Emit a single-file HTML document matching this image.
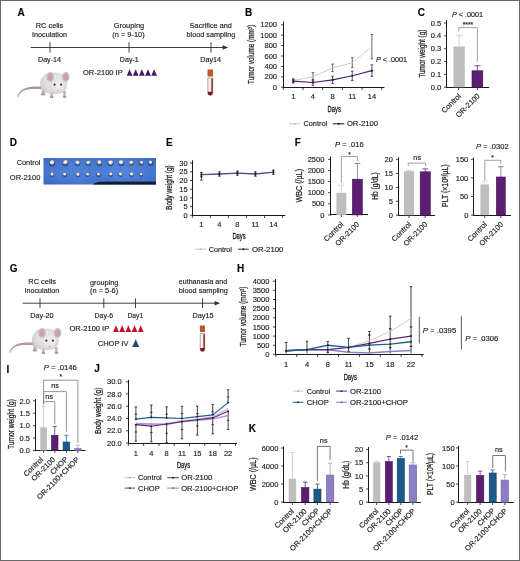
<!DOCTYPE html><html><head><meta charset="utf-8"><style>html,body{margin:0;padding:0;background:#fff;}svg{display:block;will-change:transform;}text{font-family:"Liberation Sans", sans-serif;stroke:#222;stroke-width:0.15px;}</style></head><body>
<svg width="520" height="561" viewBox="0 0 520 561">
<rect x="0" y="0" width="520" height="561" fill="#fff"/>
<defs><radialGradient id="mb" cx="0.62" cy="0.4" r="0.7"><stop offset="0" stop-color="#efedee"/><stop offset="0.7" stop-color="#e0dcdd"/><stop offset="1" stop-color="#cfc9ca"/></radialGradient><radialGradient id="mh" cx="0.5" cy="0.45" r="0.6"><stop offset="0" stop-color="#f2f0f1"/><stop offset="1" stop-color="#e2dfe0"/></radialGradient></defs>
<text x="17.50" y="15.60" font-size="10" fill="#000" font-weight="bold">A</text>
<text x="49.50" y="27.80" font-size="7.3" fill="#222" text-anchor="middle" textLength="27.4" lengthAdjust="spacingAndGlyphs">RC cells</text>
<text x="49.50" y="36.50" font-size="7.3" fill="#222" text-anchor="middle" textLength="35" lengthAdjust="spacingAndGlyphs">Inoculation</text>
<text x="129.00" y="28.20" font-size="7.3" fill="#222" text-anchor="middle" textLength="30.5" lengthAdjust="spacingAndGlyphs">Grouping</text>
<text x="128.50" y="36.70" font-size="7.3" fill="#222" text-anchor="middle" textLength="32.3" lengthAdjust="spacingAndGlyphs">(n = 9-10)</text>
<text x="210.80" y="28.20" font-size="7.3" fill="#222" text-anchor="middle" textLength="42.1" lengthAdjust="spacingAndGlyphs">Sacrifice and</text>
<text x="210.90" y="36.90" font-size="7.3" fill="#222" text-anchor="middle" textLength="48.7" lengthAdjust="spacingAndGlyphs">blood sampling</text>
<line x1="30.60" y1="47.50" x2="224.00" y2="47.50" stroke="#2a2a2a" stroke-width="0.9"/>
<polygon points="222.6,45.2 228,47.5 222.6,49.8" fill="#2a2a2a"/>
<line x1="50.00" y1="42.20" x2="50.00" y2="52.50" stroke="#2a2a2a" stroke-width="0.9"/>
<line x1="129.00" y1="42.20" x2="129.00" y2="52.50" stroke="#2a2a2a" stroke-width="0.9"/>
<line x1="211.00" y1="42.20" x2="211.00" y2="52.50" stroke="#2a2a2a" stroke-width="0.9"/>
<text x="49.50" y="62.00" font-size="7.3" fill="#222" text-anchor="middle" textLength="23" lengthAdjust="spacingAndGlyphs">Day-14</text>
<text x="129.30" y="61.60" font-size="7.3" fill="#222" text-anchor="middle" textLength="19" lengthAdjust="spacingAndGlyphs">Day-1</text>
<text x="210.60" y="62.20" font-size="7.3" fill="#222" text-anchor="middle" textLength="20.8" lengthAdjust="spacingAndGlyphs">Day14</text>
<text x="83.00" y="75.40" font-size="7.3" fill="#222" textLength="39.7" lengthAdjust="spacingAndGlyphs">OR-2100 IP</text>
<polygon points="126.70,75.80 129.57,69.20 132.44,75.80" fill="#43185f"/>
<polygon points="132.84,75.80 135.71,69.20 138.58,75.80" fill="#43185f"/>
<polygon points="138.98,75.80 141.85,69.20 144.72,75.80" fill="#43185f"/>
<polygon points="145.12,75.80 147.99,69.20 150.86,75.80" fill="#43185f"/>
<polygon points="151.26,75.80 154.13,69.20 157.00,75.80" fill="#43185f"/>
<rect x="207.50" y="69.50" width="5.50" height="6.90" fill="#b85a2c" rx="0.6"/>
<path d="M207.80,78.00 L212.70,78.00 L212.70,92.95 A2.45,2.45 0 0 1 207.80,92.95 Z" fill="#f3efed" stroke="#8a3a42" stroke-width="0.45"/>
<path d="M211.40,78.60 L212.70,78.60 L212.70,92.95 A2.45,2.45 0 0 1 207.80,92.95 L207.80,91.75 L211.40,91.75 Z" fill="#6e1c24"/>
<g transform="translate(0.00 0.00)"><path d="M41.5,86.6 C34,86.4 27,86.6 22.5,89.5 C19.8,91.3 18.2,93.8 17.4,96.8 L18.3,97 C19.3,94.3 21,92.3 23.4,90.8 C27.5,88.5 34,88.7 41.5,89.2 Z" fill="#b39698"/><path d="M42,88 L44.5,88 L45,93.2 L41.5,93.6 Z" fill="#bdb4b6"/><ellipse cx="43.2" cy="94.2" rx="2.3" ry="1.2" fill="#a8989c"/><path d="M50.3,91 L53,91 L52.8,96 L50.4,96 Z" fill="#bdb4b6"/><ellipse cx="51.6" cy="96.9" rx="1.9" ry="1.2" fill="#a8989c"/><path d="M63.2,91 L65.8,91 L65.6,95.8 L63.4,95.8 Z" fill="#bdb4b6"/><ellipse cx="64.6" cy="96.7" rx="1.9" ry="1.2" fill="#a8989c"/><path d="M40.6,84 C40.4,77.5 45,73.4 52,73.1 C59.5,72.8 65.5,74.8 66.4,80.5 C67.3,86.5 66,92.2 59,93.2 C52,94.2 44.5,92.8 41.8,89.6 C41,88.5 40.7,86.5 40.6,84 Z" fill="url(#mb)" stroke="#c4bebf" stroke-width="0.5"/><ellipse cx="58" cy="85.2" rx="7.2" ry="7.3" fill="url(#mh)" stroke="#d2cccd" stroke-width="0.4"/><ellipse cx="50.2" cy="76.8" rx="3.3" ry="4.4" fill="#cbbfc1" stroke="#b3a5a8" stroke-width="0.5"/><ellipse cx="50.2" cy="77.1" rx="2.3" ry="3.3" fill="#cda0a6"/><ellipse cx="65.8" cy="76.8" rx="3.3" ry="4.4" fill="#cbbfc1" stroke="#b3a5a8" stroke-width="0.5"/><ellipse cx="65.8" cy="77.1" rx="2.3" ry="3.3" fill="#cda0a6"/><circle cx="54.6" cy="84.6" r="1.05" fill="#2a2a2a"/><circle cx="61.1" cy="84.6" r="1.05" fill="#2a2a2a"/><ellipse cx="58" cy="90.6" rx="0.9" ry="0.6" fill="#b08890"/></g>
<text x="245.10" y="15.50" font-size="10" fill="#000" font-weight="bold">B</text>
<line x1="283.50" y1="21.50" x2="283.50" y2="87.70" stroke="#1a1a1a" stroke-width="1.0"/>
<line x1="281.00" y1="87.20" x2="283.50" y2="87.20" stroke="#1a1a1a" stroke-width="0.8"/>
<text x="277.00" y="89.80" font-size="7.5" fill="#222" text-anchor="end">0</text>
<line x1="281.00" y1="76.80" x2="283.50" y2="76.80" stroke="#1a1a1a" stroke-width="0.8"/>
<text x="277.00" y="79.40" font-size="7.5" fill="#222" text-anchor="end">200</text>
<line x1="281.00" y1="66.40" x2="283.50" y2="66.40" stroke="#1a1a1a" stroke-width="0.8"/>
<text x="277.00" y="69.00" font-size="7.5" fill="#222" text-anchor="end">400</text>
<line x1="281.00" y1="56.00" x2="283.50" y2="56.00" stroke="#1a1a1a" stroke-width="0.8"/>
<text x="277.00" y="58.60" font-size="7.5" fill="#222" text-anchor="end">600</text>
<line x1="281.00" y1="45.60" x2="283.50" y2="45.60" stroke="#1a1a1a" stroke-width="0.8"/>
<text x="277.00" y="48.20" font-size="7.5" fill="#222" text-anchor="end">800</text>
<line x1="281.00" y1="35.20" x2="283.50" y2="35.20" stroke="#1a1a1a" stroke-width="0.8"/>
<text x="277.00" y="37.80" font-size="7.5" fill="#222" text-anchor="end">1000</text>
<line x1="281.00" y1="24.80" x2="283.50" y2="24.80" stroke="#1a1a1a" stroke-width="0.8"/>
<text x="277.00" y="27.40" font-size="7.5" fill="#222" text-anchor="end">1200</text>
<line x1="283.00" y1="87.50" x2="384.40" y2="87.50" stroke="#1a1a1a" stroke-width="1.0"/>
<line x1="283.30" y1="87.50" x2="283.30" y2="90.00" stroke="#1a1a1a" stroke-width="0.8"/>
<line x1="303.00" y1="87.50" x2="303.00" y2="90.00" stroke="#1a1a1a" stroke-width="0.8"/>
<line x1="322.70" y1="87.50" x2="322.70" y2="90.00" stroke="#1a1a1a" stroke-width="0.8"/>
<line x1="342.40" y1="87.50" x2="342.40" y2="90.00" stroke="#1a1a1a" stroke-width="0.8"/>
<line x1="362.10" y1="87.50" x2="362.10" y2="90.00" stroke="#1a1a1a" stroke-width="0.8"/>
<line x1="381.80" y1="87.50" x2="381.80" y2="90.00" stroke="#1a1a1a" stroke-width="0.8"/>
<text x="293.30" y="99.20" font-size="7.5" fill="#222" text-anchor="middle">1</text>
<text x="312.95" y="99.20" font-size="7.5" fill="#222" text-anchor="middle">4</text>
<text x="332.60" y="99.20" font-size="7.5" fill="#222" text-anchor="middle">8</text>
<text x="352.25" y="99.20" font-size="7.5" fill="#222" text-anchor="middle">11</text>
<text x="371.90" y="99.20" font-size="7.5" fill="#222" text-anchor="middle">14</text>
<text x="334.20" y="111.70" font-size="8.6" fill="#222" text-anchor="middle" textLength="13.2" lengthAdjust="spacingAndGlyphs" style="stroke-width:0.3px">Days</text>
<text x="0" y="0" font-size="8.8" fill="#222" style="stroke-width:0.25px" text-anchor="middle" textLength="59" lengthAdjust="spacingAndGlyphs" transform="translate(254.10 54.50) rotate(-90)">Tumor volume (mm<tspan font-size="5.5" dy="-2.5">3</tspan><tspan dy="2.5">)</tspan></text>
<line x1="293.30" y1="80.44" x2="293.30" y2="78.88" stroke="#444" stroke-width="0.8"/>
<line x1="292.00" y1="78.88" x2="294.60" y2="78.88" stroke="#444" stroke-width="0.8"/>
<line x1="293.30" y1="80.44" x2="293.30" y2="82.00" stroke="#444" stroke-width="0.8"/>
<line x1="292.00" y1="82.00" x2="294.60" y2="82.00" stroke="#444" stroke-width="0.8"/>
<line x1="312.95" y1="76.80" x2="312.95" y2="72.64" stroke="#444" stroke-width="0.8"/>
<line x1="311.65" y1="72.64" x2="314.25" y2="72.64" stroke="#444" stroke-width="0.8"/>
<line x1="312.95" y1="76.80" x2="312.95" y2="80.96" stroke="#444" stroke-width="0.8"/>
<line x1="311.65" y1="80.96" x2="314.25" y2="80.96" stroke="#444" stroke-width="0.8"/>
<line x1="332.60" y1="67.96" x2="332.60" y2="64.06" stroke="#444" stroke-width="0.8"/>
<line x1="331.30" y1="64.06" x2="333.90" y2="64.06" stroke="#444" stroke-width="0.8"/>
<line x1="332.60" y1="67.96" x2="332.60" y2="71.60" stroke="#444" stroke-width="0.8"/>
<line x1="331.30" y1="71.60" x2="333.90" y2="71.60" stroke="#444" stroke-width="0.8"/>
<line x1="352.25" y1="62.76" x2="352.25" y2="57.82" stroke="#444" stroke-width="0.8"/>
<line x1="350.95" y1="57.82" x2="353.55" y2="57.82" stroke="#444" stroke-width="0.8"/>
<line x1="352.25" y1="62.76" x2="352.25" y2="67.70" stroke="#444" stroke-width="0.8"/>
<line x1="350.95" y1="67.70" x2="353.55" y2="67.70" stroke="#444" stroke-width="0.8"/>
<line x1="371.90" y1="46.90" x2="371.90" y2="34.42" stroke="#444" stroke-width="0.8"/>
<line x1="370.60" y1="34.42" x2="373.20" y2="34.42" stroke="#444" stroke-width="0.8"/>
<line x1="371.90" y1="46.90" x2="371.90" y2="58.86" stroke="#444" stroke-width="0.8"/>
<line x1="370.60" y1="58.86" x2="373.20" y2="58.86" stroke="#444" stroke-width="0.8"/>
<polyline points="293.30,80.44 312.95,76.80 332.60,67.96 352.25,62.76 371.90,46.90" fill="none" stroke="#c4c4c4" stroke-width="0.9" stroke-linejoin="round"/>
<line x1="293.30" y1="81.22" x2="293.30" y2="79.40" stroke="#3a1a4e" stroke-width="0.8"/>
<line x1="292.00" y1="79.40" x2="294.60" y2="79.40" stroke="#3a1a4e" stroke-width="0.8"/>
<line x1="293.30" y1="81.22" x2="293.30" y2="83.04" stroke="#3a1a4e" stroke-width="0.8"/>
<line x1="292.00" y1="83.04" x2="294.60" y2="83.04" stroke="#3a1a4e" stroke-width="0.8"/>
<line x1="312.95" y1="82.52" x2="312.95" y2="79.66" stroke="#3a1a4e" stroke-width="0.8"/>
<line x1="311.65" y1="79.66" x2="314.25" y2="79.66" stroke="#3a1a4e" stroke-width="0.8"/>
<line x1="312.95" y1="82.52" x2="312.95" y2="85.38" stroke="#3a1a4e" stroke-width="0.8"/>
<line x1="311.65" y1="85.38" x2="314.25" y2="85.38" stroke="#3a1a4e" stroke-width="0.8"/>
<line x1="332.60" y1="79.92" x2="332.60" y2="76.28" stroke="#3a1a4e" stroke-width="0.8"/>
<line x1="331.30" y1="76.28" x2="333.90" y2="76.28" stroke="#3a1a4e" stroke-width="0.8"/>
<line x1="332.60" y1="79.92" x2="332.60" y2="83.56" stroke="#3a1a4e" stroke-width="0.8"/>
<line x1="331.30" y1="83.56" x2="333.90" y2="83.56" stroke="#3a1a4e" stroke-width="0.8"/>
<line x1="352.25" y1="75.76" x2="352.25" y2="71.08" stroke="#3a1a4e" stroke-width="0.8"/>
<line x1="350.95" y1="71.08" x2="353.55" y2="71.08" stroke="#3a1a4e" stroke-width="0.8"/>
<line x1="352.25" y1="75.76" x2="352.25" y2="80.44" stroke="#3a1a4e" stroke-width="0.8"/>
<line x1="350.95" y1="80.44" x2="353.55" y2="80.44" stroke="#3a1a4e" stroke-width="0.8"/>
<line x1="371.90" y1="70.56" x2="371.90" y2="64.84" stroke="#3a1a4e" stroke-width="0.8"/>
<line x1="370.60" y1="64.84" x2="373.20" y2="64.84" stroke="#3a1a4e" stroke-width="0.8"/>
<line x1="371.90" y1="70.56" x2="371.90" y2="76.28" stroke="#3a1a4e" stroke-width="0.8"/>
<line x1="370.60" y1="76.28" x2="373.20" y2="76.28" stroke="#3a1a4e" stroke-width="0.8"/>
<polyline points="293.30,81.22 312.95,82.52 332.60,79.92 352.25,75.76 371.90,70.56" fill="none" stroke="#4e2068" stroke-width="1.2" stroke-linejoin="round"/>
<circle cx="293.30" cy="81.22" r="1.1" fill="#2a0f3a"/>
<circle cx="312.95" cy="82.52" r="1.1" fill="#2a0f3a"/>
<circle cx="332.60" cy="79.92" r="1.1" fill="#2a0f3a"/>
<circle cx="352.25" cy="75.76" r="1.1" fill="#2a0f3a"/>
<circle cx="371.90" cy="70.56" r="1.1" fill="#2a0f3a"/>
<text x="376.00" y="61.70" font-size="7.3" fill="#222" textLength="31" lengthAdjust="spacingAndGlyphs"><tspan font-style="italic">P</tspan> &lt; .0001</text>
<line x1="289.20" y1="123.80" x2="300.20" y2="123.80" stroke="#c4c4c4" stroke-width="0.9"/>
<circle cx="294.7" cy="123.8" r="0.9" fill="#b0b0b0"/>
<text x="303.50" y="126.30" font-size="7.3" fill="#222" textLength="23.6" lengthAdjust="spacingAndGlyphs">Control</text>
<line x1="332.90" y1="123.80" x2="344.40" y2="123.80" stroke="#3a1850" stroke-width="1.1"/>
<circle cx="338.6" cy="123.8" r="1.0" fill="#2a0f3a"/>
<text x="346.90" y="126.30" font-size="7.3" fill="#222" textLength="31.1" lengthAdjust="spacingAndGlyphs">OR-2100</text>
<text x="417.80" y="15.90" font-size="10" fill="#000" font-weight="bold">C</text>
<text x="452.00" y="16.60" font-size="7.3" fill="#222" textLength="31" lengthAdjust="spacingAndGlyphs"><tspan font-style="italic">P</tspan> &lt; .0001</text>
<line x1="446.50" y1="20.20" x2="446.50" y2="87.70" stroke="#1a1a1a" stroke-width="1.0"/>
<line x1="444.00" y1="87.20" x2="446.50" y2="87.20" stroke="#1a1a1a" stroke-width="0.8"/>
<text x="441.20" y="89.80" font-size="7.5" fill="#222" text-anchor="end">0.0</text>
<line x1="444.00" y1="74.37" x2="446.50" y2="74.37" stroke="#1a1a1a" stroke-width="0.8"/>
<text x="441.20" y="76.97" font-size="7.5" fill="#222" text-anchor="end">0.1</text>
<line x1="444.00" y1="61.54" x2="446.50" y2="61.54" stroke="#1a1a1a" stroke-width="0.8"/>
<text x="441.20" y="64.14" font-size="7.5" fill="#222" text-anchor="end">0.2</text>
<line x1="444.00" y1="48.71" x2="446.50" y2="48.71" stroke="#1a1a1a" stroke-width="0.8"/>
<text x="441.20" y="51.31" font-size="7.5" fill="#222" text-anchor="end">0.3</text>
<line x1="444.00" y1="35.88" x2="446.50" y2="35.88" stroke="#1a1a1a" stroke-width="0.8"/>
<text x="441.20" y="38.48" font-size="7.5" fill="#222" text-anchor="end">0.4</text>
<line x1="444.00" y1="23.05" x2="446.50" y2="23.05" stroke="#1a1a1a" stroke-width="0.8"/>
<text x="441.20" y="25.65" font-size="7.5" fill="#222" text-anchor="end">0.5</text>
<line x1="446.00" y1="87.50" x2="489.20" y2="87.50" stroke="#1a1a1a" stroke-width="1.0"/>
<line x1="458.60" y1="87.50" x2="458.60" y2="90.00" stroke="#1a1a1a" stroke-width="0.8"/>
<line x1="477.40" y1="87.50" x2="477.40" y2="90.00" stroke="#1a1a1a" stroke-width="0.8"/>
<line x1="459.15" y1="46.40" x2="459.15" y2="35.30" stroke="#c8c8c8" stroke-width="0.8"/>
<line x1="455.76" y1="35.30" x2="462.54" y2="35.30" stroke="#c8c8c8" stroke-width="0.8"/>
<rect x="453.50" y="46.40" width="11.30" height="40.80" fill="#bebebe"/>
<line x1="477.40" y1="70.80" x2="477.40" y2="65.70" stroke="#6a2a86" stroke-width="0.8"/>
<line x1="474.16" y1="65.70" x2="480.64" y2="65.70" stroke="#6a2a86" stroke-width="0.8"/>
<rect x="472.00" y="70.80" width="10.80" height="16.40" fill="#5c1e73" stroke="#3f1250" stroke-width="0.6"/>
<polyline points="458.70,31.50 458.70,27.60 477.40,27.60 477.40,61.60" fill="none" stroke="#8a8a8a" stroke-width="0.8"/>
<text x="468.00" y="26.60" font-size="6.5" fill="#222" text-anchor="middle" textLength="10.5" lengthAdjust="spacingAndGlyphs">****</text>
<text x="0" y="0" font-size="8.8" fill="#222" style="stroke-width:0.25px" text-anchor="middle" textLength="48" lengthAdjust="spacingAndGlyphs" transform="translate(424.70 53.60) rotate(-90)">Tumor weight (g)</text>
<text x="0" y="0" font-size="7.5" fill="#222" text-anchor="end" transform="translate(461.50 96.50) rotate(-45)">Control</text>
<text x="0" y="0" font-size="7.5" fill="#222" text-anchor="end" transform="translate(480.30 96.50) rotate(-45)">OR-2100</text>
<text x="9.80" y="146.10" font-size="10" fill="#000" font-weight="bold">D</text>
<text x="40.40" y="165.20" font-size="7.3" fill="#222" text-anchor="end" textLength="23.7" lengthAdjust="spacingAndGlyphs">Control</text>
<text x="40.40" y="179.80" font-size="7.3" fill="#222" text-anchor="end" textLength="30.6" lengthAdjust="spacingAndGlyphs">OR-2100</text>
<defs><linearGradient id="dk" x1="0" y1="0" x2="0" y2="1"><stop offset="0" stop-color="#1b2c4a"/><stop offset="1" stop-color="#0a0f1c"/></linearGradient><radialGradient id="tm" cx="0.45" cy="0.4" r="0.62"><stop offset="0" stop-color="#fffdf4"/><stop offset="0.5" stop-color="#f0e8cc"/><stop offset="1" stop-color="#c4a67e"/></radialGradient></defs>
<defs><linearGradient id="bl" x1="0" y1="0" x2="1" y2="0"><stop offset="0" stop-color="#3f6fcc"/><stop offset="0.15" stop-color="#4678d4"/><stop offset="0.3" stop-color="#4a7dd8"/><stop offset="0.5" stop-color="#4477d3"/><stop offset="0.7" stop-color="#4b80da"/><stop offset="0.85" stop-color="#4679d5"/><stop offset="1" stop-color="#3f70cd"/></linearGradient><linearGradient id="bl2" x1="0" y1="0" x2="0" y2="1"><stop offset="0" stop-color="#000" stop-opacity="0.06"/><stop offset="0.5" stop-color="#fff" stop-opacity="0.04"/><stop offset="1" stop-color="#000" stop-opacity="0.08"/></linearGradient></defs>
<rect x="43.5" y="158" width="112.5" height="26.5" fill="url(#bl)"/>
<rect x="43.5" y="158" width="112.5" height="26.5" fill="url(#bl2)"/>
<path d="M93,184.5 C95,182 100,181.4 110,181.4 L156,181.4 L156,184.5 Z" fill="url(#dk)"/>
<ellipse cx="52.1" cy="163.6" rx="3.20" ry="2.97" fill="#1c2f62" opacity="0.6"/>
<path d="M54.19,161.77 Q54.62,162.40 54.24,163.07 Q53.87,163.74 53.24,164.36 Q52.61,164.98 51.80,164.55 Q50.99,164.13 50.24,163.69 Q49.49,163.25 49.59,162.43 Q49.69,161.61 50.34,161.15 Q51.00,160.69 51.79,160.33 Q52.58,159.97 53.17,160.56 Q53.77,161.14 54.19,161.77 Z" fill="url(#tm)"/>
<ellipse cx="65.4" cy="163.6" rx="3.00" ry="2.78" fill="#1c2f62" opacity="0.6"/>
<path d="M67.78,161.53 Q67.85,162.40 67.41,162.99 Q66.97,163.58 66.36,163.91 Q65.76,164.23 64.97,164.27 Q64.18,164.30 63.44,163.79 Q62.69,163.29 63.06,162.52 Q63.42,161.75 63.86,161.21 Q64.29,160.68 65.08,160.36 Q65.86,160.04 66.79,160.35 Q67.71,160.65 67.78,161.53 Z" fill="url(#tm)"/>
<ellipse cx="77.5" cy="163.6" rx="2.80" ry="2.59" fill="#1c2f62" opacity="0.6"/>
<path d="M79.50,161.79 Q79.89,162.40 79.54,163.04 Q79.19,163.68 78.59,164.28 Q77.99,164.88 77.28,164.36 Q76.58,163.84 75.78,163.53 Q74.99,163.22 75.26,162.49 Q75.53,161.75 76.03,161.32 Q76.53,160.88 77.18,160.79 Q77.83,160.70 78.48,160.94 Q79.12,161.18 79.50,161.79 Z" fill="url(#tm)"/>
<ellipse cx="88.2" cy="163.6" rx="2.70" ry="2.50" fill="#1c2f62" opacity="0.6"/>
<path d="M90.19,161.84 Q90.71,162.40 90.18,162.95 Q89.65,163.50 89.12,163.96 Q88.60,164.42 87.81,164.32 Q87.03,164.22 86.64,163.63 Q86.24,163.04 86.16,162.37 Q86.08,161.71 86.70,161.36 Q87.31,161.01 87.91,160.92 Q88.51,160.82 89.09,161.06 Q89.67,161.29 90.19,161.84 Z" fill="url(#tm)"/>
<ellipse cx="99.4" cy="163.6" rx="2.80" ry="2.59" fill="#1c2f62" opacity="0.6"/>
<path d="M101.43,161.81 Q101.89,162.40 101.50,163.05 Q101.11,163.69 100.44,163.99 Q99.77,164.28 98.98,164.27 Q98.20,164.27 97.74,163.68 Q97.27,163.10 97.35,162.42 Q97.42,161.75 97.76,161.06 Q98.10,160.37 98.97,160.27 Q99.84,160.17 100.40,160.69 Q100.97,161.21 101.43,161.81 Z" fill="url(#tm)"/>
<ellipse cx="110.6" cy="163.6" rx="2.90" ry="2.68" fill="#1c2f62" opacity="0.6"/>
<path d="M112.88,161.62 Q113.09,162.40 112.78,163.11 Q112.47,163.81 111.78,164.35 Q111.09,164.89 110.18,164.68 Q109.27,164.47 108.91,163.77 Q108.54,163.07 108.20,162.29 Q107.85,161.50 108.72,161.17 Q109.60,160.83 110.30,160.59 Q111.00,160.34 111.83,160.59 Q112.66,160.84 112.88,161.62 Z" fill="url(#tm)"/>
<ellipse cx="121.3" cy="163.6" rx="2.90" ry="2.68" fill="#1c2f62" opacity="0.6"/>
<path d="M123.33,161.64 Q123.35,162.40 123.24,163.10 Q123.14,163.79 122.39,163.95 Q121.63,164.11 120.82,164.26 Q120.00,164.42 119.38,163.83 Q118.77,163.23 118.86,162.43 Q118.96,161.63 119.43,160.92 Q119.89,160.21 120.79,160.32 Q121.68,160.43 122.50,160.66 Q123.31,160.88 123.33,161.64 Z" fill="url(#tm)"/>
<ellipse cx="131.3" cy="163.6" rx="2.50" ry="2.30" fill="#1c2f62" opacity="0.6"/>
<path d="M133.17,161.77 Q133.38,162.40 133.13,163.00 Q132.88,163.59 132.26,163.86 Q131.64,164.13 130.90,164.16 Q130.15,164.19 129.61,163.66 Q129.06,163.13 129.25,162.46 Q129.45,161.79 129.84,161.26 Q130.23,160.73 130.90,160.85 Q131.58,160.97 132.27,161.06 Q132.96,161.14 133.17,161.77 Z" fill="url(#tm)"/>
<ellipse cx="141.5" cy="163.6" rx="2.30" ry="2.12" fill="#1c2f62" opacity="0.6"/>
<path d="M143.03,161.96 Q143.40,162.40 143.28,163.03 Q143.16,163.66 142.51,163.93 Q141.85,164.21 141.27,163.93 Q140.69,163.66 140.30,163.29 Q139.91,162.92 139.80,162.37 Q139.70,161.81 140.25,161.56 Q140.79,161.30 141.30,161.07 Q141.80,160.84 142.24,161.18 Q142.67,161.52 143.03,161.96 Z" fill="url(#tm)"/>
<ellipse cx="150.6" cy="163.6" rx="2.50" ry="2.30" fill="#1c2f62" opacity="0.6"/>
<path d="M152.18,161.84 Q152.26,162.40 152.05,162.87 Q151.83,163.33 151.41,163.85 Q150.99,164.38 150.38,164.04 Q149.77,163.70 149.35,163.32 Q148.93,162.95 148.87,162.38 Q148.82,161.82 149.13,161.20 Q149.44,160.59 150.16,160.77 Q150.88,160.96 151.49,161.11 Q152.09,161.27 152.18,161.84 Z" fill="url(#tm)"/>
<ellipse cx="51.9" cy="175.1" rx="2.20" ry="1.94" fill="#1c2f62" opacity="0.55"/>
<path d="M53.53,173.62 Q53.62,174.20 53.51,174.77 Q53.40,175.34 52.82,175.62 Q52.23,175.90 51.58,175.81 Q50.93,175.72 50.70,175.19 Q50.48,174.67 50.43,174.18 Q50.38,173.70 50.75,173.34 Q51.11,172.97 51.68,172.72 Q52.24,172.46 52.84,172.75 Q53.45,173.03 53.53,173.62 Z" fill="url(#tm)"/>
<ellipse cx="64.8" cy="175.1" rx="2.40" ry="2.12" fill="#1c2f62" opacity="0.55"/>
<path d="M66.30,173.67 Q66.40,174.20 66.22,174.67 Q66.04,175.14 65.57,175.41 Q65.09,175.68 64.53,175.59 Q63.97,175.50 63.50,175.14 Q63.04,174.78 63.00,174.19 Q62.95,173.60 63.45,173.24 Q63.95,172.88 64.51,172.89 Q65.06,172.89 65.63,173.02 Q66.20,173.15 66.30,173.67 Z" fill="url(#tm)"/>
<ellipse cx="78" cy="175.1" rx="2.30" ry="2.03" fill="#1c2f62" opacity="0.55"/>
<path d="M79.65,173.59 Q79.68,174.20 79.54,174.73 Q79.41,175.26 78.89,175.68 Q78.37,176.10 77.70,175.90 Q77.03,175.71 76.67,175.23 Q76.31,174.75 76.27,174.19 Q76.24,173.62 76.64,173.16 Q77.04,172.70 77.64,172.81 Q78.25,172.93 78.93,172.96 Q79.61,172.99 79.65,173.59 Z" fill="url(#tm)"/>
<ellipse cx="87.6" cy="175.1" rx="2.20" ry="1.94" fill="#1c2f62" opacity="0.55"/>
<path d="M89.06,173.81 Q89.49,174.20 89.29,174.77 Q89.10,175.33 88.51,175.61 Q87.93,175.88 87.36,175.67 Q86.80,175.45 86.45,175.07 Q86.09,174.69 86.19,174.23 Q86.30,173.77 86.50,173.29 Q86.71,172.81 87.27,172.91 Q87.84,173.00 88.24,173.21 Q88.64,173.41 89.06,173.81 Z" fill="url(#tm)"/>
<ellipse cx="98.5" cy="175.1" rx="2.40" ry="2.12" fill="#1c2f62" opacity="0.55"/>
<path d="M99.90,173.77 Q100.15,174.20 99.94,174.67 Q99.73,175.13 99.27,175.44 Q98.81,175.76 98.27,175.57 Q97.74,175.38 97.43,175.02 Q97.11,174.65 97.06,174.18 Q97.00,173.71 97.36,173.35 Q97.72,172.99 98.26,172.81 Q98.81,172.63 99.23,172.98 Q99.65,173.33 99.90,173.77 Z" fill="url(#tm)"/>
<ellipse cx="110.6" cy="175.1" rx="2.20" ry="1.94" fill="#1c2f62" opacity="0.55"/>
<path d="M112.36,173.61 Q112.56,174.20 112.25,174.71 Q111.95,175.22 111.40,175.34 Q110.85,175.46 110.35,175.41 Q109.85,175.37 109.49,175.02 Q109.13,174.68 109.12,174.20 Q109.12,173.71 109.51,173.41 Q109.90,173.11 110.42,172.80 Q110.94,172.48 111.55,172.75 Q112.17,173.02 112.36,173.61 Z" fill="url(#tm)"/>
<ellipse cx="120.6" cy="175.1" rx="2.40" ry="2.12" fill="#1c2f62" opacity="0.55"/>
<path d="M122.10,173.77 Q122.46,174.20 122.25,174.74 Q122.04,175.29 121.45,175.43 Q120.87,175.57 120.34,175.49 Q119.82,175.42 119.38,175.08 Q118.95,174.74 118.98,174.21 Q119.01,173.68 119.26,173.10 Q119.52,172.51 120.20,172.64 Q120.88,172.77 121.31,173.06 Q121.74,173.34 122.10,173.77 Z" fill="url(#tm)"/>
<ellipse cx="131.5" cy="175.1" rx="2.30" ry="2.03" fill="#1c2f62" opacity="0.55"/>
<path d="M133.31,173.64 Q133.64,174.20 133.26,174.72 Q132.88,175.25 132.32,175.39 Q131.76,175.54 131.18,175.58 Q130.59,175.62 130.38,175.13 Q130.17,174.64 129.99,174.14 Q129.80,173.64 130.11,173.08 Q130.42,172.52 131.14,172.44 Q131.86,172.36 132.42,172.72 Q132.99,173.08 133.31,173.64 Z" fill="url(#tm)"/>
<ellipse cx="141.25" cy="175.1" rx="2.00" ry="1.76" fill="#1c2f62" opacity="0.55"/>
<path d="M142.55,173.72 Q142.57,174.20 142.44,174.60 Q142.31,175.00 141.89,175.16 Q141.47,175.31 140.95,175.40 Q140.43,175.48 140.14,175.07 Q139.85,174.66 139.77,174.18 Q139.70,173.69 140.13,173.42 Q140.57,173.14 141.02,173.10 Q141.47,173.06 142.00,173.14 Q142.53,173.23 142.55,173.72 Z" fill="url(#tm)"/>
<text x="166.00" y="146.00" font-size="10" fill="#000" font-weight="bold">E</text>
<line x1="192.50" y1="160.30" x2="192.50" y2="215.80" stroke="#1a1a1a" stroke-width="1.0"/>
<line x1="190.00" y1="215.30" x2="192.50" y2="215.30" stroke="#1a1a1a" stroke-width="0.8"/>
<text x="187.60" y="217.90" font-size="7.5" fill="#222" text-anchor="end">0</text>
<line x1="190.00" y1="206.60" x2="192.50" y2="206.60" stroke="#1a1a1a" stroke-width="0.8"/>
<text x="187.60" y="209.20" font-size="7.5" fill="#222" text-anchor="end">5</text>
<line x1="190.00" y1="197.90" x2="192.50" y2="197.90" stroke="#1a1a1a" stroke-width="0.8"/>
<text x="187.60" y="200.50" font-size="7.5" fill="#222" text-anchor="end">10</text>
<line x1="190.00" y1="189.20" x2="192.50" y2="189.20" stroke="#1a1a1a" stroke-width="0.8"/>
<text x="187.60" y="191.80" font-size="7.5" fill="#222" text-anchor="end">15</text>
<line x1="190.00" y1="180.50" x2="192.50" y2="180.50" stroke="#1a1a1a" stroke-width="0.8"/>
<text x="187.60" y="183.10" font-size="7.5" fill="#222" text-anchor="end">20</text>
<line x1="190.00" y1="171.80" x2="192.50" y2="171.80" stroke="#1a1a1a" stroke-width="0.8"/>
<text x="187.60" y="174.40" font-size="7.5" fill="#222" text-anchor="end">25</text>
<line x1="190.00" y1="163.10" x2="192.50" y2="163.10" stroke="#1a1a1a" stroke-width="0.8"/>
<text x="187.60" y="165.70" font-size="7.5" fill="#222" text-anchor="end">30</text>
<line x1="192.00" y1="215.50" x2="285.30" y2="215.50" stroke="#1a1a1a" stroke-width="1.0"/>
<line x1="192.30" y1="215.50" x2="192.30" y2="218.00" stroke="#1a1a1a" stroke-width="0.8"/>
<line x1="210.36" y1="215.50" x2="210.36" y2="218.00" stroke="#1a1a1a" stroke-width="0.8"/>
<line x1="228.42" y1="215.50" x2="228.42" y2="218.00" stroke="#1a1a1a" stroke-width="0.8"/>
<line x1="246.48" y1="215.50" x2="246.48" y2="218.00" stroke="#1a1a1a" stroke-width="0.8"/>
<line x1="264.54" y1="215.50" x2="264.54" y2="218.00" stroke="#1a1a1a" stroke-width="0.8"/>
<line x1="282.60" y1="215.50" x2="282.60" y2="218.00" stroke="#1a1a1a" stroke-width="0.8"/>
<text x="201.40" y="227.10" font-size="7.5" fill="#222" text-anchor="middle">1</text>
<text x="219.40" y="227.10" font-size="7.5" fill="#222" text-anchor="middle">4</text>
<text x="237.40" y="227.10" font-size="7.5" fill="#222" text-anchor="middle">8</text>
<text x="255.40" y="227.10" font-size="7.5" fill="#222" text-anchor="middle">11</text>
<text x="273.40" y="227.10" font-size="7.5" fill="#222" text-anchor="middle">14</text>
<text x="239.00" y="239.20" font-size="8.6" fill="#222" text-anchor="middle" textLength="13.2" lengthAdjust="spacingAndGlyphs" style="stroke-width:0.3px">Days</text>
<text x="0" y="0" font-size="8.8" fill="#222" style="stroke-width:0.25px" text-anchor="middle" textLength="44.6" lengthAdjust="spacingAndGlyphs" transform="translate(171.80 187.60) rotate(-90)">Body weight (g)</text>
<line x1="201.40" y1="174.70" x2="201.40" y2="172.60" stroke="#2a1238" stroke-width="1.0"/>
<line x1="200.20" y1="172.60" x2="202.60" y2="172.60" stroke="#2a1238" stroke-width="1.0"/>
<line x1="201.40" y1="174.70" x2="201.40" y2="176.80" stroke="#2a1238" stroke-width="1.0"/>
<line x1="200.20" y1="176.80" x2="202.60" y2="176.80" stroke="#2a1238" stroke-width="1.0"/>
<line x1="219.40" y1="174.00" x2="219.40" y2="171.90" stroke="#2a1238" stroke-width="1.0"/>
<line x1="218.20" y1="171.90" x2="220.60" y2="171.90" stroke="#2a1238" stroke-width="1.0"/>
<line x1="219.40" y1="174.00" x2="219.40" y2="176.10" stroke="#2a1238" stroke-width="1.0"/>
<line x1="218.20" y1="176.10" x2="220.60" y2="176.10" stroke="#2a1238" stroke-width="1.0"/>
<line x1="237.40" y1="173.10" x2="237.40" y2="171.00" stroke="#2a1238" stroke-width="1.0"/>
<line x1="236.20" y1="171.00" x2="238.60" y2="171.00" stroke="#2a1238" stroke-width="1.0"/>
<line x1="237.40" y1="173.10" x2="237.40" y2="175.20" stroke="#2a1238" stroke-width="1.0"/>
<line x1="236.20" y1="175.20" x2="238.60" y2="175.20" stroke="#2a1238" stroke-width="1.0"/>
<line x1="255.40" y1="174.00" x2="255.40" y2="171.90" stroke="#2a1238" stroke-width="1.0"/>
<line x1="254.20" y1="171.90" x2="256.60" y2="171.90" stroke="#2a1238" stroke-width="1.0"/>
<line x1="255.40" y1="174.00" x2="255.40" y2="176.10" stroke="#2a1238" stroke-width="1.0"/>
<line x1="254.20" y1="176.10" x2="256.60" y2="176.10" stroke="#2a1238" stroke-width="1.0"/>
<line x1="273.40" y1="172.20" x2="273.40" y2="170.10" stroke="#2a1238" stroke-width="1.0"/>
<line x1="272.20" y1="170.10" x2="274.60" y2="170.10" stroke="#2a1238" stroke-width="1.0"/>
<line x1="273.40" y1="172.20" x2="273.40" y2="174.30" stroke="#2a1238" stroke-width="1.0"/>
<line x1="272.20" y1="174.30" x2="274.60" y2="174.30" stroke="#2a1238" stroke-width="1.0"/>
<line x1="201.40" y1="174.70" x2="201.40" y2="180.20" stroke="#2a1238" stroke-width="0.8"/>
<line x1="200.20" y1="180.20" x2="202.60" y2="180.20" stroke="#2a1238" stroke-width="0.8"/>
<polyline points="201.40,174.70 219.40,174.00 237.40,173.10 255.40,174.00 273.40,172.20" fill="none" stroke="#5e4874" stroke-width="1.3" stroke-linejoin="round"/>
<circle cx="201.40" cy="174.70" r="1.1" fill="#2a0f3a"/>
<circle cx="219.40" cy="174.00" r="1.1" fill="#2a0f3a"/>
<circle cx="237.40" cy="173.10" r="1.1" fill="#2a0f3a"/>
<circle cx="255.40" cy="174.00" r="1.1" fill="#2a0f3a"/>
<circle cx="273.40" cy="172.20" r="1.1" fill="#2a0f3a"/>
<line x1="194.80" y1="249.20" x2="206.30" y2="249.20" stroke="#c4c4c4" stroke-width="0.9"/>
<circle cx="200.5" cy="249.2" r="0.9" fill="#b0b0b0"/>
<text x="208.80" y="251.70" font-size="7.3" fill="#222" textLength="23.1" lengthAdjust="spacingAndGlyphs">Control</text>
<line x1="238.00" y1="249.20" x2="248.70" y2="249.20" stroke="#4e2068" stroke-width="1.0"/>
<circle cx="243.3" cy="249.2" r="1.0" fill="#2a0f3a"/>
<text x="251.90" y="251.70" font-size="7.3" fill="#222" textLength="31.4" lengthAdjust="spacingAndGlyphs">OR-2100</text>
<text x="294.80" y="146.40" font-size="10" fill="#000" font-weight="bold">F</text>
<line x1="330.50" y1="156.50" x2="330.50" y2="215.40" stroke="#1a1a1a" stroke-width="1.0"/>
<line x1="328.00" y1="214.90" x2="330.50" y2="214.90" stroke="#1a1a1a" stroke-width="0.8"/>
<text x="324.40" y="217.50" font-size="7.5" fill="#222" text-anchor="end">0</text>
<line x1="328.00" y1="203.80" x2="330.50" y2="203.80" stroke="#1a1a1a" stroke-width="0.8"/>
<text x="324.40" y="206.40" font-size="7.5" fill="#222" text-anchor="end">500</text>
<line x1="328.00" y1="192.70" x2="330.50" y2="192.70" stroke="#1a1a1a" stroke-width="0.8"/>
<text x="324.40" y="195.30" font-size="7.5" fill="#222" text-anchor="end">1000</text>
<line x1="328.00" y1="181.60" x2="330.50" y2="181.60" stroke="#1a1a1a" stroke-width="0.8"/>
<text x="324.40" y="184.20" font-size="7.5" fill="#222" text-anchor="end">1500</text>
<line x1="328.00" y1="170.50" x2="330.50" y2="170.50" stroke="#1a1a1a" stroke-width="0.8"/>
<text x="324.40" y="173.10" font-size="7.5" fill="#222" text-anchor="end">2000</text>
<line x1="328.00" y1="159.40" x2="330.50" y2="159.40" stroke="#1a1a1a" stroke-width="0.8"/>
<text x="324.40" y="162.00" font-size="7.5" fill="#222" text-anchor="end">2500</text>
<line x1="330.00" y1="214.50" x2="368.00" y2="214.50" stroke="#1a1a1a" stroke-width="1.0"/>
<line x1="341.40" y1="214.50" x2="341.40" y2="217.00" stroke="#1a1a1a" stroke-width="0.8"/>
<line x1="357.30" y1="214.50" x2="357.30" y2="217.00" stroke="#1a1a1a" stroke-width="0.8"/>
<line x1="341.35" y1="192.80" x2="341.35" y2="185.10" stroke="#c8c8c8" stroke-width="0.8"/>
<line x1="338.38" y1="185.10" x2="344.32" y2="185.10" stroke="#c8c8c8" stroke-width="0.8"/>
<rect x="336.40" y="192.80" width="9.90" height="22.10" fill="#bebebe"/>
<line x1="357.35" y1="179.20" x2="357.35" y2="163.50" stroke="#7a6a86" stroke-width="0.8"/>
<line x1="354.38" y1="163.50" x2="360.32" y2="163.50" stroke="#7a6a86" stroke-width="0.8"/>
<rect x="352.40" y="179.20" width="9.90" height="35.70" fill="#5c1e73" stroke="#3f1250" stroke-width="0.6"/>
<polyline points="341.40,182.80 341.40,156.50 357.40,156.50 357.40,161.20" fill="none" stroke="#8a8a8a" stroke-width="0.8"/>
<text x="349.60" y="156.60" font-size="6.5" fill="#222" text-anchor="middle">*</text>
<text x="335.10" y="146.80" font-size="7.3" fill="#222" textLength="28.6" lengthAdjust="spacingAndGlyphs"><tspan font-style="italic">P</tspan> = .016</text>
<text x="0" y="0" font-size="8.8" fill="#222" style="stroke-width:0.25px" text-anchor="middle" textLength="33.5" lengthAdjust="spacingAndGlyphs" transform="translate(301.80 185.70) rotate(-90)">WBC (/µL)</text>
<text x="0" y="0" font-size="7.5" fill="#222" text-anchor="end" transform="translate(343.90 224.90) rotate(-45)">Control</text>
<text x="0" y="0" font-size="7.5" fill="#222" text-anchor="end" transform="translate(359.80 224.90) rotate(-45)">OR-2100</text>
<line x1="398.50" y1="157.20" x2="398.50" y2="215.70" stroke="#1a1a1a" stroke-width="1.0"/>
<line x1="396.00" y1="215.20" x2="398.50" y2="215.20" stroke="#1a1a1a" stroke-width="0.8"/>
<text x="392.90" y="217.80" font-size="7.5" fill="#222" text-anchor="end">0</text>
<line x1="396.00" y1="201.30" x2="398.50" y2="201.30" stroke="#1a1a1a" stroke-width="0.8"/>
<text x="392.90" y="203.90" font-size="7.5" fill="#222" text-anchor="end">5</text>
<line x1="396.00" y1="187.40" x2="398.50" y2="187.40" stroke="#1a1a1a" stroke-width="0.8"/>
<text x="392.90" y="190.00" font-size="7.5" fill="#222" text-anchor="end">10</text>
<line x1="396.00" y1="173.50" x2="398.50" y2="173.50" stroke="#1a1a1a" stroke-width="0.8"/>
<text x="392.90" y="176.10" font-size="7.5" fill="#222" text-anchor="end">15</text>
<line x1="396.00" y1="159.60" x2="398.50" y2="159.60" stroke="#1a1a1a" stroke-width="0.8"/>
<text x="392.90" y="162.20" font-size="7.5" fill="#222" text-anchor="end">20</text>
<line x1="398.00" y1="215.50" x2="435.00" y2="215.50" stroke="#1a1a1a" stroke-width="1.0"/>
<line x1="409.00" y1="215.50" x2="409.00" y2="218.00" stroke="#1a1a1a" stroke-width="0.8"/>
<line x1="425.20" y1="215.50" x2="425.20" y2="218.00" stroke="#1a1a1a" stroke-width="0.8"/>
<line x1="409.05" y1="171.20" x2="409.05" y2="170.20" stroke="#c8c8c8" stroke-width="0.8"/>
<line x1="406.02" y1="170.20" x2="412.08" y2="170.20" stroke="#c8c8c8" stroke-width="0.8"/>
<rect x="404.00" y="171.20" width="10.10" height="44.00" fill="#bebebe"/>
<line x1="425.25" y1="171.80" x2="425.25" y2="168.90" stroke="#6a2a86" stroke-width="0.8"/>
<line x1="422.22" y1="168.90" x2="428.28" y2="168.90" stroke="#6a2a86" stroke-width="0.8"/>
<rect x="420.20" y="171.80" width="10.10" height="43.40" fill="#5c1e73" stroke="#3f1250" stroke-width="0.6"/>
<polyline points="408.30,165.90 408.30,163.10 425.60,163.10 425.60,165.90" fill="none" stroke="#8a8a8a" stroke-width="0.8"/>
<text x="417.20" y="160.20" font-size="7.3" fill="#222" text-anchor="middle">ns</text>
<text x="0" y="0" font-size="8.8" fill="#222" style="stroke-width:0.25px" text-anchor="middle" textLength="27.4" lengthAdjust="spacingAndGlyphs" transform="translate(378.10 186.10) rotate(-90)">Hb (g/dL)</text>
<text x="0" y="0" font-size="7.5" fill="#222" text-anchor="end" transform="translate(411.70 224.90) rotate(-45)">Control</text>
<text x="0" y="0" font-size="7.5" fill="#222" text-anchor="end" transform="translate(428.00 224.90) rotate(-45)">OR-2100</text>
<line x1="473.50" y1="157.60" x2="473.50" y2="215.60" stroke="#1a1a1a" stroke-width="1.0"/>
<line x1="471.00" y1="215.10" x2="473.50" y2="215.10" stroke="#1a1a1a" stroke-width="0.8"/>
<text x="468.30" y="217.70" font-size="7.5" fill="#222" text-anchor="end">0</text>
<line x1="471.00" y1="196.50" x2="473.50" y2="196.50" stroke="#1a1a1a" stroke-width="0.8"/>
<text x="468.30" y="199.10" font-size="7.5" fill="#222" text-anchor="end">50</text>
<line x1="471.00" y1="177.90" x2="473.50" y2="177.90" stroke="#1a1a1a" stroke-width="0.8"/>
<text x="468.30" y="180.50" font-size="7.5" fill="#222" text-anchor="end">100</text>
<line x1="471.00" y1="159.30" x2="473.50" y2="159.30" stroke="#1a1a1a" stroke-width="0.8"/>
<text x="468.30" y="161.90" font-size="7.5" fill="#222" text-anchor="end">150</text>
<line x1="473.00" y1="215.50" x2="511.00" y2="215.50" stroke="#1a1a1a" stroke-width="1.0"/>
<line x1="484.70" y1="215.50" x2="484.70" y2="218.00" stroke="#1a1a1a" stroke-width="0.8"/>
<line x1="500.80" y1="215.50" x2="500.80" y2="218.00" stroke="#1a1a1a" stroke-width="0.8"/>
<line x1="484.75" y1="184.50" x2="484.75" y2="181.00" stroke="#c8c8c8" stroke-width="0.8"/>
<line x1="482.14" y1="181.00" x2="487.36" y2="181.00" stroke="#c8c8c8" stroke-width="0.8"/>
<rect x="480.40" y="184.50" width="8.70" height="30.60" fill="#bebebe"/>
<line x1="500.80" y1="177.00" x2="500.80" y2="166.70" stroke="#7a6a86" stroke-width="0.8"/>
<line x1="498.10" y1="166.70" x2="503.50" y2="166.70" stroke="#7a6a86" stroke-width="0.8"/>
<rect x="496.30" y="177.00" width="9.00" height="38.10" fill="#5c1e73" stroke="#3f1250" stroke-width="0.6"/>
<polyline points="484.80,180.10 484.80,160.30 500.80,160.30 500.80,163.90" fill="none" stroke="#8a8a8a" stroke-width="0.8"/>
<text x="492.50" y="159.90" font-size="6.5" fill="#222" text-anchor="middle">*</text>
<text x="476.10" y="148.50" font-size="7.3" fill="#222" textLength="32.5" lengthAdjust="spacingAndGlyphs"><tspan font-style="italic">P</tspan> = .0302</text>
<text x="0" y="0" font-size="8.8" fill="#222" style="stroke-width:0.25px" text-anchor="middle" textLength="42.5" lengthAdjust="spacingAndGlyphs" transform="translate(448.30 185.70) rotate(-90)">PLT (×10<tspan font-size="5.5" dy="-2.5">9</tspan><tspan dy="2.5">/µL)</tspan></text>
<text x="0" y="0" font-size="7.5" fill="#222" text-anchor="end" transform="translate(487.50 224.90) rotate(-45)">Control</text>
<text x="0" y="0" font-size="7.5" fill="#222" text-anchor="end" transform="translate(503.80 224.90) rotate(-45)">OR-2100</text>
<text x="9.70" y="271.80" font-size="10" fill="#000" font-weight="bold">G</text>
<text x="42.10" y="283.90" font-size="7.3" fill="#222" text-anchor="middle" textLength="27.6" lengthAdjust="spacingAndGlyphs">RC cells</text>
<text x="41.90" y="292.70" font-size="7.3" fill="#222" text-anchor="middle" textLength="34.6" lengthAdjust="spacingAndGlyphs">Inoculation</text>
<text x="104.10" y="284.60" font-size="7.3" fill="#222" text-anchor="middle" textLength="28.2" lengthAdjust="spacingAndGlyphs">grouping</text>
<text x="104.10" y="292.60" font-size="7.3" fill="#222" text-anchor="middle" textLength="28.2" lengthAdjust="spacingAndGlyphs">(n = 5-6)</text>
<text x="203.00" y="283.60" font-size="7.3" fill="#222" text-anchor="middle" textLength="48.3" lengthAdjust="spacingAndGlyphs">euthanasia and</text>
<text x="203.30" y="292.80" font-size="7.3" fill="#222" text-anchor="middle" textLength="49" lengthAdjust="spacingAndGlyphs">blood sampling</text>
<line x1="22.60" y1="303.20" x2="216.00" y2="303.20" stroke="#2a2a2a" stroke-width="0.9"/>
<polygon points="214.6,300.9 220,303.2 214.6,305.5" fill="#2a2a2a"/>
<line x1="40.00" y1="298.40" x2="40.00" y2="308.00" stroke="#2a2a2a" stroke-width="0.9"/>
<line x1="103.80" y1="298.40" x2="103.80" y2="308.00" stroke="#2a2a2a" stroke-width="0.9"/>
<line x1="135.50" y1="298.40" x2="135.50" y2="308.00" stroke="#2a2a2a" stroke-width="0.9"/>
<line x1="202.50" y1="298.40" x2="202.50" y2="308.00" stroke="#2a2a2a" stroke-width="0.9"/>
<text x="42.00" y="318.00" font-size="7.3" fill="#222" text-anchor="middle" textLength="23.3" lengthAdjust="spacingAndGlyphs">Day-20</text>
<text x="103.80" y="317.70" font-size="7.3" fill="#222" text-anchor="middle" textLength="18.5" lengthAdjust="spacingAndGlyphs">Day-6</text>
<text x="135.30" y="318.20" font-size="7.3" fill="#222" text-anchor="middle" textLength="15.8" lengthAdjust="spacingAndGlyphs">Day1</text>
<text x="203.00" y="317.80" font-size="7.3" fill="#222" text-anchor="middle" textLength="21" lengthAdjust="spacingAndGlyphs">Day15</text>
<text x="69.50" y="331.10" font-size="7.3" fill="#222" textLength="39.7" lengthAdjust="spacingAndGlyphs">OR-2100 IP</text>
<polygon points="113.10,332.00 115.99,325.30 118.88,332.00" fill="#c8102e"/>
<polygon points="119.28,332.00 122.17,325.30 125.06,332.00" fill="#c8102e"/>
<polygon points="125.46,332.00 128.35,325.30 131.24,332.00" fill="#c8102e"/>
<polygon points="131.64,332.00 134.53,325.30 137.42,332.00" fill="#c8102e"/>
<polygon points="137.82,332.00 140.71,325.30 143.60,332.00" fill="#c8102e"/>
<text x="97.80" y="345.80" font-size="7.3" fill="#222" textLength="30.6" lengthAdjust="spacingAndGlyphs">CHOP IV</text>
<polygon points="132.20,347.10 135.75,339.30 139.30,347.10" fill="#1f4e79"/>
<rect x="199.90" y="325.60" width="5.10" height="6.40" fill="#b85a2c" rx="0.6"/>
<path d="M200.20,333.60 L204.70,333.60 L204.70,349.15 A2.25,2.25 0 0 1 200.20,349.15 Z" fill="#f3efed" stroke="#8a3a42" stroke-width="0.45"/>
<path d="M203.40,334.20 L204.70,334.20 L204.70,349.15 A2.25,2.25 0 0 1 200.20,349.15 L200.20,347.95 L203.40,347.95 Z" fill="#6e1c24"/>
<g transform="translate(-8.20 256.00)"><path d="M41.5,86.6 C34,86.4 27,86.6 22.5,89.5 C19.8,91.3 18.2,93.8 17.4,96.8 L18.3,97 C19.3,94.3 21,92.3 23.4,90.8 C27.5,88.5 34,88.7 41.5,89.2 Z" fill="#b39698"/><path d="M42,88 L44.5,88 L45,93.2 L41.5,93.6 Z" fill="#bdb4b6"/><ellipse cx="43.2" cy="94.2" rx="2.3" ry="1.2" fill="#a8989c"/><path d="M50.3,91 L53,91 L52.8,96 L50.4,96 Z" fill="#bdb4b6"/><ellipse cx="51.6" cy="96.9" rx="1.9" ry="1.2" fill="#a8989c"/><path d="M63.2,91 L65.8,91 L65.6,95.8 L63.4,95.8 Z" fill="#bdb4b6"/><ellipse cx="64.6" cy="96.7" rx="1.9" ry="1.2" fill="#a8989c"/><path d="M40.6,84 C40.4,77.5 45,73.4 52,73.1 C59.5,72.8 65.5,74.8 66.4,80.5 C67.3,86.5 66,92.2 59,93.2 C52,94.2 44.5,92.8 41.8,89.6 C41,88.5 40.7,86.5 40.6,84 Z" fill="url(#mb)" stroke="#c4bebf" stroke-width="0.5"/><ellipse cx="58" cy="85.2" rx="7.2" ry="7.3" fill="url(#mh)" stroke="#d2cccd" stroke-width="0.4"/><ellipse cx="50.2" cy="76.8" rx="3.3" ry="4.4" fill="#cbbfc1" stroke="#b3a5a8" stroke-width="0.5"/><ellipse cx="50.2" cy="77.1" rx="2.3" ry="3.3" fill="#cda0a6"/><ellipse cx="65.8" cy="76.8" rx="3.3" ry="4.4" fill="#cbbfc1" stroke="#b3a5a8" stroke-width="0.5"/><ellipse cx="65.8" cy="77.1" rx="2.3" ry="3.3" fill="#cda0a6"/><circle cx="54.6" cy="84.6" r="1.05" fill="#2a2a2a"/><circle cx="61.1" cy="84.6" r="1.05" fill="#2a2a2a"/><ellipse cx="58" cy="90.6" rx="0.9" ry="0.6" fill="#b08890"/></g>
<text x="237.10" y="271.60" font-size="10" fill="#000" font-weight="bold">H</text>
<line x1="275.50" y1="279.00" x2="275.50" y2="354.90" stroke="#1a1a1a" stroke-width="1.0"/>
<line x1="273.00" y1="354.40" x2="275.50" y2="354.40" stroke="#1a1a1a" stroke-width="0.8"/>
<text x="269.40" y="357.00" font-size="7.5" fill="#222" text-anchor="end">0</text>
<line x1="273.00" y1="345.25" x2="275.50" y2="345.25" stroke="#1a1a1a" stroke-width="0.8"/>
<text x="269.40" y="347.85" font-size="7.5" fill="#222" text-anchor="end">500</text>
<line x1="273.00" y1="336.10" x2="275.50" y2="336.10" stroke="#1a1a1a" stroke-width="0.8"/>
<text x="269.40" y="338.70" font-size="7.5" fill="#222" text-anchor="end">1000</text>
<line x1="273.00" y1="326.95" x2="275.50" y2="326.95" stroke="#1a1a1a" stroke-width="0.8"/>
<text x="269.40" y="329.55" font-size="7.5" fill="#222" text-anchor="end">1500</text>
<line x1="273.00" y1="317.80" x2="275.50" y2="317.80" stroke="#1a1a1a" stroke-width="0.8"/>
<text x="269.40" y="320.40" font-size="7.5" fill="#222" text-anchor="end">2000</text>
<line x1="273.00" y1="308.65" x2="275.50" y2="308.65" stroke="#1a1a1a" stroke-width="0.8"/>
<text x="269.40" y="311.25" font-size="7.5" fill="#222" text-anchor="end">2500</text>
<line x1="273.00" y1="299.50" x2="275.50" y2="299.50" stroke="#1a1a1a" stroke-width="0.8"/>
<text x="269.40" y="302.10" font-size="7.5" fill="#222" text-anchor="end">3000</text>
<line x1="273.00" y1="290.35" x2="275.50" y2="290.35" stroke="#1a1a1a" stroke-width="0.8"/>
<text x="269.40" y="292.95" font-size="7.5" fill="#222" text-anchor="end">3500</text>
<line x1="273.00" y1="281.20" x2="275.50" y2="281.20" stroke="#1a1a1a" stroke-width="0.8"/>
<text x="269.40" y="283.80" font-size="7.5" fill="#222" text-anchor="end">4000</text>
<line x1="275.00" y1="354.50" x2="423.70" y2="354.50" stroke="#1a1a1a" stroke-width="1.0"/>
<line x1="275.90" y1="354.50" x2="275.90" y2="357.00" stroke="#1a1a1a" stroke-width="0.8"/>
<line x1="296.77" y1="354.50" x2="296.77" y2="357.00" stroke="#1a1a1a" stroke-width="0.8"/>
<line x1="317.64" y1="354.50" x2="317.64" y2="357.00" stroke="#1a1a1a" stroke-width="0.8"/>
<line x1="338.51" y1="354.50" x2="338.51" y2="357.00" stroke="#1a1a1a" stroke-width="0.8"/>
<line x1="359.38" y1="354.50" x2="359.38" y2="357.00" stroke="#1a1a1a" stroke-width="0.8"/>
<line x1="380.25" y1="354.50" x2="380.25" y2="357.00" stroke="#1a1a1a" stroke-width="0.8"/>
<line x1="401.12" y1="354.50" x2="401.12" y2="357.00" stroke="#1a1a1a" stroke-width="0.8"/>
<line x1="421.99" y1="354.50" x2="421.99" y2="357.00" stroke="#1a1a1a" stroke-width="0.8"/>
<text x="286.20" y="366.70" font-size="7.5" fill="#222" text-anchor="middle">1</text>
<text x="307.00" y="366.70" font-size="7.5" fill="#222" text-anchor="middle">4</text>
<text x="327.80" y="366.70" font-size="7.5" fill="#222" text-anchor="middle">8</text>
<text x="348.60" y="366.70" font-size="7.5" fill="#222" text-anchor="middle">11</text>
<text x="369.40" y="366.70" font-size="7.5" fill="#222" text-anchor="middle">15</text>
<text x="390.20" y="366.70" font-size="7.5" fill="#222" text-anchor="middle">18</text>
<text x="411.00" y="366.70" font-size="7.5" fill="#222" text-anchor="middle">22</text>
<text x="350.30" y="379.70" font-size="8.6" fill="#222" text-anchor="middle" textLength="13.2" lengthAdjust="spacingAndGlyphs" style="stroke-width:0.3px">Days</text>
<text x="0" y="0" font-size="8.8" fill="#222" style="stroke-width:0.25px" text-anchor="middle" textLength="60" lengthAdjust="spacingAndGlyphs" transform="translate(246.10 316.50) rotate(-90)">Tumor volume (mm<tspan font-size="5.5" dy="-2.5">3</tspan><tspan dy="2.5">)</tspan></text>
<line x1="286.20" y1="353.30" x2="286.20" y2="342.50" stroke="#2a2a2a" stroke-width="0.9"/>
<line x1="284.90" y1="342.50" x2="287.50" y2="342.50" stroke="#2a2a2a" stroke-width="0.9"/>
<line x1="307.00" y1="353.30" x2="307.00" y2="341.22" stroke="#2a2a2a" stroke-width="0.9"/>
<line x1="305.70" y1="341.22" x2="308.30" y2="341.22" stroke="#2a2a2a" stroke-width="0.9"/>
<line x1="327.80" y1="353.30" x2="327.80" y2="341.59" stroke="#2a2a2a" stroke-width="0.9"/>
<line x1="326.50" y1="341.59" x2="329.10" y2="341.59" stroke="#2a2a2a" stroke-width="0.9"/>
<line x1="348.60" y1="353.30" x2="348.60" y2="338.30" stroke="#2a2a2a" stroke-width="0.9"/>
<line x1="347.30" y1="338.30" x2="349.90" y2="338.30" stroke="#2a2a2a" stroke-width="0.9"/>
<line x1="369.40" y1="353.30" x2="369.40" y2="331.34" stroke="#2a2a2a" stroke-width="0.9"/>
<line x1="368.10" y1="331.34" x2="370.70" y2="331.34" stroke="#2a2a2a" stroke-width="0.9"/>
<line x1="390.20" y1="353.30" x2="390.20" y2="316.15" stroke="#2a2a2a" stroke-width="0.9"/>
<line x1="388.90" y1="316.15" x2="391.50" y2="316.15" stroke="#2a2a2a" stroke-width="0.9"/>
<line x1="411.00" y1="353.30" x2="411.00" y2="286.69" stroke="#2a2a2a" stroke-width="0.9"/>
<line x1="409.70" y1="286.69" x2="412.30" y2="286.69" stroke="#2a2a2a" stroke-width="0.9"/>
<line x1="368.20" y1="335.00" x2="370.60" y2="335.00" stroke="#1a1a1a" stroke-width="1.1"/>
<line x1="368.20" y1="348.91" x2="370.60" y2="348.91" stroke="#1a1a1a" stroke-width="1.1"/>
<line x1="389.00" y1="347.63" x2="391.40" y2="347.63" stroke="#1a1a1a" stroke-width="1.1"/>
<line x1="409.80" y1="326.95" x2="412.20" y2="326.95" stroke="#1a1a1a" stroke-width="1.1"/>
<line x1="409.80" y1="346.35" x2="412.20" y2="346.35" stroke="#1a1a1a" stroke-width="1.1"/>
<line x1="347.40" y1="351.65" x2="349.80" y2="351.65" stroke="#1a1a1a" stroke-width="1.1"/>
<line x1="326.60" y1="352.20" x2="329.00" y2="352.20" stroke="#1a1a1a" stroke-width="1.1"/>
<line x1="389.00" y1="328.78" x2="391.40" y2="328.78" stroke="#1a1a1a" stroke-width="1.1"/>
<polyline points="286.20,350.74 307.00,349.64 327.80,349.64 348.60,347.45 369.40,340.67 390.20,331.52 411.00,318.53" fill="none" stroke="#c8c8c8" stroke-width="0.9" stroke-linejoin="round"/>
<polyline points="286.20,350.74 307.00,349.64 327.80,349.64 348.60,352.20 369.40,353.03 390.20,351.38 411.00,350.56" fill="none" stroke="#8a80c8" stroke-width="1.5" stroke-linejoin="round"/>
<polyline points="286.20,350.74 307.00,349.64 327.80,349.64 348.60,347.45 369.40,343.42 390.20,339.21 411.00,336.10" fill="none" stroke="#5c2a78" stroke-width="1.3" stroke-linejoin="round"/>
<polyline points="286.20,350.74 307.00,349.64 327.80,345.25 348.60,347.45 369.40,345.07 390.20,344.15 411.00,341.77" fill="none" stroke="#1f5f8f" stroke-width="1.3" stroke-linejoin="round"/>
<circle cx="286.20" cy="350.74" r="1.0" fill="#2a0f3a"/>
<circle cx="307.00" cy="349.64" r="1.0" fill="#2a0f3a"/>
<circle cx="327.80" cy="349.64" r="1.0" fill="#2a0f3a"/>
<circle cx="348.60" cy="347.45" r="1.0" fill="#2a0f3a"/>
<circle cx="369.40" cy="343.42" r="1.0" fill="#2a0f3a"/>
<circle cx="390.20" cy="339.21" r="1.0" fill="#2a0f3a"/>
<circle cx="411.00" cy="336.10" r="1.0" fill="#2a0f3a"/>
<circle cx="286.20" cy="350.74" r="1.0" fill="#0e2e4e"/>
<circle cx="307.00" cy="349.64" r="1.0" fill="#0e2e4e"/>
<circle cx="327.80" cy="345.25" r="1.0" fill="#0e2e4e"/>
<circle cx="348.60" cy="347.45" r="1.0" fill="#0e2e4e"/>
<circle cx="369.40" cy="345.07" r="1.0" fill="#0e2e4e"/>
<circle cx="390.20" cy="344.15" r="1.0" fill="#0e2e4e"/>
<circle cx="411.00" cy="341.77" r="1.0" fill="#0e2e4e"/>
<line x1="419.30" y1="316.80" x2="419.30" y2="343.40" stroke="#444" stroke-width="0.9"/>
<text x="422.80" y="332.70" font-size="7.3" fill="#222" textLength="33.4" lengthAdjust="spacingAndGlyphs"><tspan font-style="italic">P</tspan> = .0395</text>
<line x1="461.40" y1="316.20" x2="461.40" y2="349.60" stroke="#444" stroke-width="0.9"/>
<text x="465.20" y="340.50" font-size="7.3" fill="#222" textLength="33.2" lengthAdjust="spacingAndGlyphs"><tspan font-style="italic">P</tspan> = .0306</text>
<line x1="292.60" y1="391.10" x2="303.40" y2="391.10" stroke="#c4c4c4" stroke-width="1.0"/>
<circle cx="298.00" cy="391.10" r="0.95" fill="#a8a8a8"/>
<text x="306.80" y="393.60" font-size="7.3" fill="#222" textLength="23.3" lengthAdjust="spacingAndGlyphs">Control</text>
<line x1="336.10" y1="391.10" x2="346.90" y2="391.10" stroke="#5c2a78" stroke-width="1.0"/>
<circle cx="341.50" cy="391.10" r="0.95" fill="#2a0f3a"/>
<text x="350.00" y="393.60" font-size="7.3" fill="#222" textLength="31" lengthAdjust="spacingAndGlyphs">OR-2100</text>
<line x1="292.60" y1="402.30" x2="303.40" y2="402.30" stroke="#1f5f8f" stroke-width="1.0"/>
<circle cx="298.00" cy="402.30" r="0.95" fill="#0e2e4e"/>
<text x="306.80" y="404.70" font-size="7.3" fill="#222" textLength="21.9" lengthAdjust="spacingAndGlyphs">CHOP</text>
<line x1="336.10" y1="402.30" x2="346.90" y2="402.30" stroke="#8a80c8" stroke-width="1.0"/>
<circle cx="341.50" cy="402.30" r="0.95" fill="#6a60a8"/>
<text x="350.00" y="404.70" font-size="7.3" fill="#222" textLength="58" lengthAdjust="spacingAndGlyphs">OR-2100+CHOP</text>
<text x="6.40" y="373.00" font-size="10" fill="#000" font-weight="bold">I</text>
<line x1="35.50" y1="399.00" x2="35.50" y2="451.00" stroke="#1a1a1a" stroke-width="1.0"/>
<line x1="33.00" y1="450.50" x2="35.50" y2="450.50" stroke="#1a1a1a" stroke-width="0.8"/>
<text x="30.00" y="453.10" font-size="7.5" fill="#222" text-anchor="end">0.0</text>
<line x1="33.00" y1="438.10" x2="35.50" y2="438.10" stroke="#1a1a1a" stroke-width="0.8"/>
<text x="30.00" y="440.70" font-size="7.5" fill="#222" text-anchor="end">0.5</text>
<line x1="33.00" y1="425.70" x2="35.50" y2="425.70" stroke="#1a1a1a" stroke-width="0.8"/>
<text x="30.00" y="428.30" font-size="7.5" fill="#222" text-anchor="end">1.0</text>
<line x1="33.00" y1="413.30" x2="35.50" y2="413.30" stroke="#1a1a1a" stroke-width="0.8"/>
<text x="30.00" y="415.90" font-size="7.5" fill="#222" text-anchor="end">1.5</text>
<line x1="33.00" y1="400.90" x2="35.50" y2="400.90" stroke="#1a1a1a" stroke-width="0.8"/>
<text x="30.00" y="403.50" font-size="7.5" fill="#222" text-anchor="end">2.0</text>
<line x1="35.00" y1="450.50" x2="85.60" y2="450.50" stroke="#1a1a1a" stroke-width="1.0"/>
<line x1="43.60" y1="450.50" x2="43.60" y2="453.00" stroke="#1a1a1a" stroke-width="0.8"/>
<line x1="54.80" y1="450.50" x2="54.80" y2="453.00" stroke="#1a1a1a" stroke-width="0.8"/>
<line x1="66.40" y1="450.50" x2="66.40" y2="453.00" stroke="#1a1a1a" stroke-width="0.8"/>
<line x1="77.90" y1="450.50" x2="77.90" y2="453.00" stroke="#1a1a1a" stroke-width="0.8"/>
<line x1="43.60" y1="427.30" x2="43.60" y2="406.50" stroke="#c8c8c8" stroke-width="0.8"/>
<line x1="41.62" y1="406.50" x2="45.58" y2="406.50" stroke="#c8c8c8" stroke-width="0.8"/>
<rect x="40.30" y="427.30" width="6.60" height="23.20" fill="#bebebe"/>
<line x1="54.75" y1="435.30" x2="54.75" y2="426.50" stroke="#6a2a86" stroke-width="0.8"/>
<line x1="52.80" y1="426.50" x2="56.70" y2="426.50" stroke="#6a2a86" stroke-width="0.8"/>
<rect x="51.50" y="435.30" width="6.50" height="15.20" fill="#5c1e73" stroke="#3f1250" stroke-width="0.6"/>
<line x1="66.35" y1="442.00" x2="66.35" y2="435.30" stroke="#2a6a9e" stroke-width="0.8"/>
<line x1="64.40" y1="435.30" x2="68.30" y2="435.30" stroke="#2a6a9e" stroke-width="0.8"/>
<rect x="63.10" y="442.00" width="6.50" height="8.50" fill="#1d5a8c" stroke="#123a5e" stroke-width="0.6"/>
<line x1="77.90" y1="448.60" x2="77.90" y2="445.20" stroke="#a89ad6" stroke-width="0.8"/>
<line x1="75.98" y1="445.20" x2="79.82" y2="445.20" stroke="#a89ad6" stroke-width="0.8"/>
<rect x="74.70" y="448.60" width="6.40" height="1.90" fill="#8c7fc6" stroke="#6c60a6" stroke-width="0.6"/>
<polyline points="43.60,404.50 43.60,380.20 77.90,380.20 77.90,442.80" fill="none" stroke="#8a8a8a" stroke-width="0.9"/>
<polyline points="43.60,404.50 43.60,391.60 66.40,391.60 66.40,431.70" fill="none" stroke="#8a8a8a" stroke-width="0.9"/>
<polyline points="43.60,404.50 43.60,401.60 54.80,401.60 54.80,424.50" fill="none" stroke="#8a8a8a" stroke-width="0.9"/>
<text x="60.80" y="379.00" font-size="6.5" fill="#222" text-anchor="middle">*</text>
<text x="55.00" y="387.70" font-size="7.3" fill="#222" text-anchor="middle">ns</text>
<text x="49.20" y="398.50" font-size="7.3" fill="#222" text-anchor="middle">ns</text>
<text x="43.80" y="369.50" font-size="7.3" fill="#222" textLength="33.1" lengthAdjust="spacingAndGlyphs"><tspan font-style="italic">P</tspan> = .0146</text>
<text x="0" y="0" font-size="8.8" fill="#222" style="stroke-width:0.25px" text-anchor="middle" textLength="50" lengthAdjust="spacingAndGlyphs" transform="translate(13.80 424.00) rotate(-90)">Tumor weight (g)</text>
<text x="0" y="0" font-size="7.5" fill="#222" text-anchor="end" transform="translate(43.60 460.00) rotate(-45)">Control</text>
<text x="0" y="0" font-size="7.5" fill="#222" text-anchor="end" transform="translate(55.80 460.00) rotate(-45)">OR-2100</text>
<text x="0" y="0" font-size="7.5" fill="#222" text-anchor="end" transform="translate(68.50 459.70) rotate(-45)">CHOP</text>
<text x="0" y="0" font-size="7.5" fill="#222" text-anchor="end" transform="translate(79.70 460.00) rotate(-45)">OR-2100+CHOP</text>
<text x="94.20" y="372.40" font-size="10" fill="#000" font-weight="bold">J</text>
<line x1="128.50" y1="379.80" x2="128.50" y2="443.50" stroke="#1a1a1a" stroke-width="1.0"/>
<line x1="126.00" y1="443.00" x2="128.50" y2="443.00" stroke="#1a1a1a" stroke-width="0.8"/>
<text x="121.60" y="445.60" font-size="7.5" fill="#222" text-anchor="end">20.0</text>
<line x1="126.00" y1="430.76" x2="128.50" y2="430.76" stroke="#1a1a1a" stroke-width="0.8"/>
<text x="121.60" y="433.36" font-size="7.5" fill="#222" text-anchor="end">22.0</text>
<line x1="126.00" y1="418.52" x2="128.50" y2="418.52" stroke="#1a1a1a" stroke-width="0.8"/>
<text x="121.60" y="421.12" font-size="7.5" fill="#222" text-anchor="end">24.0</text>
<line x1="126.00" y1="406.28" x2="128.50" y2="406.28" stroke="#1a1a1a" stroke-width="0.8"/>
<text x="121.60" y="408.88" font-size="7.5" fill="#222" text-anchor="end">26.0</text>
<line x1="126.00" y1="394.04" x2="128.50" y2="394.04" stroke="#1a1a1a" stroke-width="0.8"/>
<text x="121.60" y="396.64" font-size="7.5" fill="#222" text-anchor="end">28.0</text>
<line x1="126.00" y1="381.80" x2="128.50" y2="381.80" stroke="#1a1a1a" stroke-width="0.8"/>
<text x="121.60" y="384.40" font-size="7.5" fill="#222" text-anchor="end">30.0</text>
<line x1="128.00" y1="443.50" x2="237.00" y2="443.50" stroke="#1a1a1a" stroke-width="1.0"/>
<line x1="128.30" y1="443.50" x2="128.30" y2="446.00" stroke="#1a1a1a" stroke-width="0.8"/>
<line x1="143.60" y1="443.50" x2="143.60" y2="446.00" stroke="#1a1a1a" stroke-width="0.8"/>
<line x1="158.90" y1="443.50" x2="158.90" y2="446.00" stroke="#1a1a1a" stroke-width="0.8"/>
<line x1="174.20" y1="443.50" x2="174.20" y2="446.00" stroke="#1a1a1a" stroke-width="0.8"/>
<line x1="189.50" y1="443.50" x2="189.50" y2="446.00" stroke="#1a1a1a" stroke-width="0.8"/>
<line x1="204.80" y1="443.50" x2="204.80" y2="446.00" stroke="#1a1a1a" stroke-width="0.8"/>
<line x1="220.10" y1="443.50" x2="220.10" y2="446.00" stroke="#1a1a1a" stroke-width="0.8"/>
<line x1="235.40" y1="443.50" x2="235.40" y2="446.00" stroke="#1a1a1a" stroke-width="0.8"/>
<text x="135.90" y="456.20" font-size="7.5" fill="#222" text-anchor="middle">1</text>
<text x="151.27" y="456.20" font-size="7.5" fill="#222" text-anchor="middle">4</text>
<text x="166.64" y="456.20" font-size="7.5" fill="#222" text-anchor="middle">8</text>
<text x="182.01" y="456.20" font-size="7.5" fill="#222" text-anchor="middle">11</text>
<text x="197.38" y="456.20" font-size="7.5" fill="#222" text-anchor="middle">15</text>
<text x="212.75" y="456.20" font-size="7.5" fill="#222" text-anchor="middle">18</text>
<text x="228.12" y="456.20" font-size="7.5" fill="#222" text-anchor="middle">22</text>
<text x="183.50" y="468.00" font-size="8.6" fill="#222" text-anchor="middle" textLength="13.2" lengthAdjust="spacingAndGlyphs" style="stroke-width:0.3px">Days</text>
<text x="0" y="0" font-size="8.8" fill="#222" style="stroke-width:0.25px" text-anchor="middle" textLength="46.5" lengthAdjust="spacingAndGlyphs" transform="translate(100.80 410.80) rotate(-90)">Body weight (g)</text>
<line x1="135.90" y1="419.13" x2="135.90" y2="406.89" stroke="#2a2a2a" stroke-width="0.9"/>
<line x1="134.70" y1="406.89" x2="137.10" y2="406.89" stroke="#2a2a2a" stroke-width="0.9"/>
<line x1="135.90" y1="424.64" x2="135.90" y2="441.16" stroke="#2a2a2a" stroke-width="0.9"/>
<line x1="134.70" y1="441.16" x2="137.10" y2="441.16" stroke="#2a2a2a" stroke-width="0.9"/>
<line x1="134.70" y1="414.24" x2="137.10" y2="414.24" stroke="#2a2a2a" stroke-width="0.9"/>
<line x1="134.70" y1="431.98" x2="137.10" y2="431.98" stroke="#2a2a2a" stroke-width="0.9"/>
<line x1="151.27" y1="417.30" x2="151.27" y2="405.06" stroke="#2a2a2a" stroke-width="0.9"/>
<line x1="150.07" y1="405.06" x2="152.47" y2="405.06" stroke="#2a2a2a" stroke-width="0.9"/>
<line x1="151.27" y1="426.17" x2="151.27" y2="441.78" stroke="#2a2a2a" stroke-width="0.9"/>
<line x1="150.07" y1="441.78" x2="152.47" y2="441.78" stroke="#2a2a2a" stroke-width="0.9"/>
<line x1="150.07" y1="412.40" x2="152.47" y2="412.40" stroke="#2a2a2a" stroke-width="0.9"/>
<line x1="150.07" y1="432.60" x2="152.47" y2="432.60" stroke="#2a2a2a" stroke-width="0.9"/>
<line x1="166.64" y1="417.91" x2="166.64" y2="406.89" stroke="#2a2a2a" stroke-width="0.9"/>
<line x1="165.44" y1="406.89" x2="167.84" y2="406.89" stroke="#2a2a2a" stroke-width="0.9"/>
<line x1="166.64" y1="424.03" x2="166.64" y2="442.39" stroke="#2a2a2a" stroke-width="0.9"/>
<line x1="165.44" y1="442.39" x2="167.84" y2="442.39" stroke="#2a2a2a" stroke-width="0.9"/>
<line x1="165.44" y1="414.24" x2="167.84" y2="414.24" stroke="#2a2a2a" stroke-width="0.9"/>
<line x1="165.44" y1="433.21" x2="167.84" y2="433.21" stroke="#2a2a2a" stroke-width="0.9"/>
<line x1="182.01" y1="418.52" x2="182.01" y2="406.28" stroke="#2a2a2a" stroke-width="0.9"/>
<line x1="180.81" y1="406.28" x2="183.21" y2="406.28" stroke="#2a2a2a" stroke-width="0.9"/>
<line x1="182.01" y1="421.58" x2="182.01" y2="438.72" stroke="#2a2a2a" stroke-width="0.9"/>
<line x1="180.81" y1="438.72" x2="183.21" y2="438.72" stroke="#2a2a2a" stroke-width="0.9"/>
<line x1="180.81" y1="413.62" x2="183.21" y2="413.62" stroke="#2a2a2a" stroke-width="0.9"/>
<line x1="180.81" y1="429.54" x2="183.21" y2="429.54" stroke="#2a2a2a" stroke-width="0.9"/>
<line x1="197.38" y1="416.68" x2="197.38" y2="406.28" stroke="#2a2a2a" stroke-width="0.9"/>
<line x1="196.18" y1="406.28" x2="198.58" y2="406.28" stroke="#2a2a2a" stroke-width="0.9"/>
<line x1="197.38" y1="419.74" x2="197.38" y2="435.04" stroke="#2a2a2a" stroke-width="0.9"/>
<line x1="196.18" y1="435.04" x2="198.58" y2="435.04" stroke="#2a2a2a" stroke-width="0.9"/>
<line x1="196.18" y1="413.62" x2="198.58" y2="413.62" stroke="#2a2a2a" stroke-width="0.9"/>
<line x1="196.18" y1="425.86" x2="198.58" y2="425.86" stroke="#2a2a2a" stroke-width="0.9"/>
<line x1="212.75" y1="414.85" x2="212.75" y2="404.44" stroke="#2a2a2a" stroke-width="0.9"/>
<line x1="211.55" y1="404.44" x2="213.95" y2="404.44" stroke="#2a2a2a" stroke-width="0.9"/>
<line x1="212.75" y1="417.91" x2="212.75" y2="433.82" stroke="#2a2a2a" stroke-width="0.9"/>
<line x1="211.55" y1="433.82" x2="213.95" y2="433.82" stroke="#2a2a2a" stroke-width="0.9"/>
<line x1="211.55" y1="411.79" x2="213.95" y2="411.79" stroke="#2a2a2a" stroke-width="0.9"/>
<line x1="211.55" y1="424.64" x2="213.95" y2="424.64" stroke="#2a2a2a" stroke-width="0.9"/>
<line x1="228.12" y1="402.61" x2="228.12" y2="389.76" stroke="#2a2a2a" stroke-width="0.9"/>
<line x1="226.92" y1="389.76" x2="229.32" y2="389.76" stroke="#2a2a2a" stroke-width="0.9"/>
<line x1="228.12" y1="411.18" x2="228.12" y2="429.54" stroke="#2a2a2a" stroke-width="0.9"/>
<line x1="226.92" y1="429.54" x2="229.32" y2="429.54" stroke="#2a2a2a" stroke-width="0.9"/>
<line x1="226.92" y1="397.10" x2="229.32" y2="397.10" stroke="#2a2a2a" stroke-width="0.9"/>
<line x1="226.92" y1="420.36" x2="229.32" y2="420.36" stroke="#2a2a2a" stroke-width="0.9"/>
<polyline points="135.90,424.03 151.27,424.64 166.64,423.42 182.01,420.97 197.38,419.13 212.75,416.68 228.12,408.73" fill="none" stroke="#d8c0d8" stroke-width="1.6" stroke-linejoin="round"/>
<polyline points="135.90,423.42 151.27,424.03 166.64,424.64 182.01,421.58 197.38,420.36 212.75,419.13 228.12,415.46" fill="none" stroke="#a898d8" stroke-width="1.4" stroke-linejoin="round"/>
<polyline points="135.90,424.64 151.27,426.17 166.64,424.03 182.01,421.58 197.38,419.74 212.75,417.91 228.12,411.18" fill="none" stroke="#5c2a78" stroke-width="1.1" stroke-linejoin="round"/>
<polyline points="135.90,419.13 151.27,417.30 166.64,417.91 182.01,418.52 197.38,416.68 212.75,414.85 228.12,402.61" fill="none" stroke="#1f5f8f" stroke-width="1.2" stroke-linejoin="round"/>
<circle cx="135.90" cy="424.64" r="1.0" fill="#2a0f3a"/>
<circle cx="151.27" cy="426.17" r="1.0" fill="#2a0f3a"/>
<circle cx="166.64" cy="424.03" r="1.0" fill="#2a0f3a"/>
<circle cx="182.01" cy="421.58" r="1.0" fill="#2a0f3a"/>
<circle cx="197.38" cy="419.74" r="1.0" fill="#2a0f3a"/>
<circle cx="212.75" cy="417.91" r="1.0" fill="#2a0f3a"/>
<circle cx="228.12" cy="411.18" r="1.0" fill="#2a0f3a"/>
<circle cx="135.90" cy="419.13" r="1.0" fill="#0e2e4e"/>
<circle cx="151.27" cy="417.30" r="1.0" fill="#0e2e4e"/>
<circle cx="166.64" cy="417.91" r="1.0" fill="#0e2e4e"/>
<circle cx="182.01" cy="418.52" r="1.0" fill="#0e2e4e"/>
<circle cx="197.38" cy="416.68" r="1.0" fill="#0e2e4e"/>
<circle cx="212.75" cy="414.85" r="1.0" fill="#0e2e4e"/>
<circle cx="228.12" cy="402.61" r="1.0" fill="#0e2e4e"/>
<line x1="124.60" y1="477.70" x2="135.00" y2="477.70" stroke="#c4c4c4" stroke-width="1.0"/>
<circle cx="129.80" cy="477.70" r="0.95" fill="#a8a8a8"/>
<text x="138.00" y="480.20" font-size="7.3" fill="#222" textLength="23.6" lengthAdjust="spacingAndGlyphs">Control</text>
<line x1="167.30" y1="477.70" x2="178.90" y2="477.70" stroke="#5c2a78" stroke-width="1.0"/>
<circle cx="173.10" cy="477.70" r="0.95" fill="#2a0f3a"/>
<text x="181.20" y="480.20" font-size="7.3" fill="#222" textLength="31.2" lengthAdjust="spacingAndGlyphs">OR-2100</text>
<line x1="124.60" y1="488.10" x2="135.00" y2="488.10" stroke="#1f5f8f" stroke-width="1.0"/>
<circle cx="129.80" cy="488.10" r="0.95" fill="#0e2e4e"/>
<text x="138.00" y="490.60" font-size="7.3" fill="#222" textLength="21.7" lengthAdjust="spacingAndGlyphs">CHOP</text>
<line x1="167.30" y1="488.10" x2="178.90" y2="488.10" stroke="#8a80c8" stroke-width="1.0"/>
<circle cx="173.10" cy="488.10" r="0.95" fill="#6a60a8"/>
<text x="181.20" y="490.60" font-size="7.3" fill="#222" textLength="57" lengthAdjust="spacingAndGlyphs">OR-2100+CHOP</text>
<text x="248.70" y="432.40" font-size="10" fill="#000" font-weight="bold">K</text>
<line x1="283.50" y1="446.30" x2="283.50" y2="502.50" stroke="#1a1a1a" stroke-width="1.0"/>
<line x1="281.00" y1="502.00" x2="283.50" y2="502.00" stroke="#1a1a1a" stroke-width="0.8"/>
<text x="278.40" y="504.60" font-size="7.5" fill="#222" text-anchor="end">0</text>
<line x1="281.00" y1="484.00" x2="283.50" y2="484.00" stroke="#1a1a1a" stroke-width="0.8"/>
<text x="278.40" y="486.60" font-size="7.5" fill="#222" text-anchor="end">2000</text>
<line x1="281.00" y1="466.00" x2="283.50" y2="466.00" stroke="#1a1a1a" stroke-width="0.8"/>
<text x="278.40" y="468.60" font-size="7.5" fill="#222" text-anchor="end">4000</text>
<line x1="281.00" y1="448.00" x2="283.50" y2="448.00" stroke="#1a1a1a" stroke-width="0.8"/>
<text x="278.40" y="450.60" font-size="7.5" fill="#222" text-anchor="end">6000</text>
<line x1="283.00" y1="502.50" x2="338.50" y2="502.50" stroke="#1a1a1a" stroke-width="1.0"/>
<line x1="292.40" y1="502.50" x2="292.40" y2="505.00" stroke="#1a1a1a" stroke-width="0.8"/>
<line x1="305.20" y1="502.50" x2="305.20" y2="505.00" stroke="#1a1a1a" stroke-width="0.8"/>
<line x1="317.40" y1="502.50" x2="317.40" y2="505.00" stroke="#1a1a1a" stroke-width="0.8"/>
<line x1="330.10" y1="502.50" x2="330.10" y2="505.00" stroke="#1a1a1a" stroke-width="0.8"/>
<line x1="292.45" y1="478.70" x2="292.45" y2="452.50" stroke="#c8c8c8" stroke-width="0.8"/>
<line x1="290.20" y1="452.50" x2="294.70" y2="452.50" stroke="#c8c8c8" stroke-width="0.8"/>
<rect x="288.70" y="478.70" width="7.50" height="23.30" fill="#bebebe"/>
<line x1="305.20" y1="487.50" x2="305.20" y2="482.10" stroke="#4a2a5e" stroke-width="0.8"/>
<line x1="302.98" y1="482.10" x2="307.42" y2="482.10" stroke="#4a2a5e" stroke-width="0.8"/>
<rect x="301.50" y="487.50" width="7.40" height="14.50" fill="#5c1e73" stroke="#3f1250" stroke-width="0.6"/>
<line x1="317.45" y1="489.10" x2="317.45" y2="484.10" stroke="#2a4e70" stroke-width="0.8"/>
<line x1="315.32" y1="484.10" x2="319.58" y2="484.10" stroke="#2a4e70" stroke-width="0.8"/>
<rect x="313.90" y="489.10" width="7.10" height="12.90" fill="#1d5a8c" stroke="#123a5e" stroke-width="0.6"/>
<line x1="330.10" y1="475.10" x2="330.10" y2="463.30" stroke="#a89ad6" stroke-width="0.8"/>
<line x1="327.88" y1="463.30" x2="332.32" y2="463.30" stroke="#a89ad6" stroke-width="0.8"/>
<rect x="326.40" y="475.10" width="7.40" height="26.90" fill="#8c7fc6" stroke="#6c60a6" stroke-width="0.6"/>
<polyline points="317.40,480.80 317.40,446.40 330.10,446.40 330.10,459.90" fill="none" stroke="#555" stroke-width="0.8"/>
<text x="323.70" y="443.10" font-size="7.3" fill="#222" text-anchor="middle">ns</text>
<text x="0" y="0" font-size="8.8" fill="#222" style="stroke-width:0.25px" text-anchor="middle" textLength="33.5" lengthAdjust="spacingAndGlyphs" transform="translate(255.80 474.20) rotate(-90)">WBC (/µL)</text>
<text x="0" y="0" font-size="7.5" fill="#222" text-anchor="end" transform="translate(294.50 511.70) rotate(-45)">Control</text>
<text x="0" y="0" font-size="7.5" fill="#222" text-anchor="end" transform="translate(307.30 511.70) rotate(-45)">OR-2100</text>
<text x="0" y="0" font-size="7.5" fill="#222" text-anchor="end" transform="translate(320.00 511.20) rotate(-45)">CHOP</text>
<text x="0" y="0" font-size="7.5" fill="#222" text-anchor="end" transform="translate(332.80 511.50) rotate(-45)">OR-2100+CHOP</text>
<line x1="368.50" y1="447.00" x2="368.50" y2="502.70" stroke="#1a1a1a" stroke-width="1.0"/>
<line x1="366.00" y1="502.20" x2="368.50" y2="502.20" stroke="#1a1a1a" stroke-width="0.8"/>
<text x="363.20" y="504.80" font-size="7.5" fill="#222" text-anchor="end">0</text>
<line x1="366.00" y1="489.05" x2="368.50" y2="489.05" stroke="#1a1a1a" stroke-width="0.8"/>
<text x="363.20" y="491.65" font-size="7.5" fill="#222" text-anchor="end">5</text>
<line x1="366.00" y1="475.90" x2="368.50" y2="475.90" stroke="#1a1a1a" stroke-width="0.8"/>
<text x="363.20" y="478.50" font-size="7.5" fill="#222" text-anchor="end">10</text>
<line x1="366.00" y1="462.75" x2="368.50" y2="462.75" stroke="#1a1a1a" stroke-width="0.8"/>
<text x="363.20" y="465.35" font-size="7.5" fill="#222" text-anchor="end">15</text>
<line x1="366.00" y1="449.60" x2="368.50" y2="449.60" stroke="#1a1a1a" stroke-width="0.8"/>
<text x="363.20" y="452.20" font-size="7.5" fill="#222" text-anchor="end">20</text>
<line x1="368.00" y1="502.50" x2="420.80" y2="502.50" stroke="#1a1a1a" stroke-width="1.0"/>
<line x1="376.70" y1="502.50" x2="376.70" y2="505.00" stroke="#1a1a1a" stroke-width="0.8"/>
<line x1="388.90" y1="502.50" x2="388.90" y2="505.00" stroke="#1a1a1a" stroke-width="0.8"/>
<line x1="400.80" y1="502.50" x2="400.80" y2="505.00" stroke="#1a1a1a" stroke-width="0.8"/>
<line x1="412.90" y1="502.50" x2="412.90" y2="505.00" stroke="#1a1a1a" stroke-width="0.8"/>
<line x1="376.70" y1="462.40" x2="376.70" y2="461.40" stroke="#c8c8c8" stroke-width="0.8"/>
<line x1="374.54" y1="461.40" x2="378.86" y2="461.40" stroke="#c8c8c8" stroke-width="0.8"/>
<rect x="373.10" y="462.40" width="7.20" height="39.80" fill="#bebebe"/>
<line x1="388.85" y1="461.60" x2="388.85" y2="456.50" stroke="#6a2a86" stroke-width="0.8"/>
<line x1="386.78" y1="456.50" x2="390.92" y2="456.50" stroke="#6a2a86" stroke-width="0.8"/>
<rect x="385.40" y="461.60" width="6.90" height="40.60" fill="#5c1e73" stroke="#3f1250" stroke-width="0.6"/>
<line x1="400.75" y1="458.50" x2="400.75" y2="456.50" stroke="#2a6a9e" stroke-width="0.8"/>
<line x1="398.62" y1="456.50" x2="402.88" y2="456.50" stroke="#2a6a9e" stroke-width="0.8"/>
<rect x="397.20" y="458.50" width="7.10" height="43.70" fill="#1d5a8c" stroke="#123a5e" stroke-width="0.6"/>
<line x1="412.90" y1="465.00" x2="412.90" y2="462.70" stroke="#a89ad6" stroke-width="0.8"/>
<line x1="410.68" y1="462.70" x2="415.12" y2="462.70" stroke="#a89ad6" stroke-width="0.8"/>
<rect x="409.20" y="465.00" width="7.40" height="37.20" fill="#8c7fc6" stroke="#6c60a6" stroke-width="0.6"/>
<polyline points="400.50,453.80 400.50,450.10 413.00,450.10 413.00,461.60" fill="none" stroke="#555" stroke-width="0.8"/>
<text x="406.50" y="449.80" font-size="6.5" fill="#222" text-anchor="middle">*</text>
<text x="385.80" y="440.40" font-size="7.3" fill="#222" textLength="32.4" lengthAdjust="spacingAndGlyphs"><tspan font-style="italic">P</tspan> = .0142</text>
<text x="0" y="0" font-size="8.8" fill="#222" style="stroke-width:0.25px" text-anchor="middle" textLength="28" lengthAdjust="spacingAndGlyphs" transform="translate(348.50 474.80) rotate(-90)">Hb (g/dL)</text>
<text x="0" y="0" font-size="7.5" fill="#222" text-anchor="end" transform="translate(379.00 511.70) rotate(-45)">Control</text>
<text x="0" y="0" font-size="7.5" fill="#222" text-anchor="end" transform="translate(391.30 511.70) rotate(-45)">OR-2100</text>
<text x="0" y="0" font-size="7.5" fill="#222" text-anchor="end" transform="translate(403.80 511.20) rotate(-45)">CHOP</text>
<text x="0" y="0" font-size="7.5" fill="#222" text-anchor="end" transform="translate(415.90 511.50) rotate(-45)">OR-2100+CHOP</text>
<line x1="458.50" y1="445.80" x2="458.50" y2="502.70" stroke="#1a1a1a" stroke-width="1.0"/>
<line x1="456.00" y1="502.20" x2="458.50" y2="502.20" stroke="#1a1a1a" stroke-width="0.8"/>
<text x="454.60" y="504.80" font-size="7.5" fill="#222" text-anchor="end">0</text>
<line x1="456.00" y1="484.10" x2="458.50" y2="484.10" stroke="#1a1a1a" stroke-width="0.8"/>
<text x="454.60" y="486.70" font-size="7.5" fill="#222" text-anchor="end">50</text>
<line x1="456.00" y1="466.00" x2="458.50" y2="466.00" stroke="#1a1a1a" stroke-width="0.8"/>
<text x="454.60" y="468.60" font-size="7.5" fill="#222" text-anchor="end">100</text>
<line x1="456.00" y1="447.90" x2="458.50" y2="447.90" stroke="#1a1a1a" stroke-width="0.8"/>
<text x="454.60" y="450.50" font-size="7.5" fill="#222" text-anchor="end">150</text>
<line x1="458.00" y1="502.50" x2="513.80" y2="502.50" stroke="#1a1a1a" stroke-width="1.0"/>
<line x1="467.70" y1="502.50" x2="467.70" y2="505.00" stroke="#1a1a1a" stroke-width="0.8"/>
<line x1="480.10" y1="502.50" x2="480.10" y2="505.00" stroke="#1a1a1a" stroke-width="0.8"/>
<line x1="492.70" y1="502.50" x2="492.70" y2="505.00" stroke="#1a1a1a" stroke-width="0.8"/>
<line x1="504.90" y1="502.50" x2="504.90" y2="505.00" stroke="#1a1a1a" stroke-width="0.8"/>
<line x1="467.70" y1="475.00" x2="467.70" y2="461.60" stroke="#c8c8c8" stroke-width="0.8"/>
<line x1="465.60" y1="461.60" x2="469.80" y2="461.60" stroke="#c8c8c8" stroke-width="0.8"/>
<rect x="464.20" y="475.00" width="7.00" height="27.20" fill="#bebebe"/>
<line x1="480.15" y1="475.50" x2="480.15" y2="471.20" stroke="#6a2a86" stroke-width="0.8"/>
<line x1="477.96" y1="471.20" x2="482.34" y2="471.20" stroke="#6a2a86" stroke-width="0.8"/>
<rect x="476.50" y="475.50" width="7.30" height="26.70" fill="#5c1e73" stroke="#3f1250" stroke-width="0.6"/>
<line x1="492.70" y1="473.00" x2="492.70" y2="469.90" stroke="#2a6a9e" stroke-width="0.8"/>
<line x1="490.60" y1="469.90" x2="494.80" y2="469.90" stroke="#2a6a9e" stroke-width="0.8"/>
<rect x="489.20" y="473.00" width="7.00" height="29.20" fill="#1d5a8c" stroke="#123a5e" stroke-width="0.6"/>
<line x1="504.80" y1="480.10" x2="504.80" y2="474.50" stroke="#a89ad6" stroke-width="0.8"/>
<line x1="502.58" y1="474.50" x2="507.02" y2="474.50" stroke="#a89ad6" stroke-width="0.8"/>
<rect x="501.10" y="480.10" width="7.40" height="22.10" fill="#8c7fc6" stroke="#6c60a6" stroke-width="0.6"/>
<polyline points="492.80,468.10 492.80,455.50 505.40,455.50 505.40,471.20" fill="none" stroke="#555" stroke-width="0.8"/>
<text x="498.90" y="452.40" font-size="7.3" fill="#222" text-anchor="middle">ns</text>
<text x="0" y="0" font-size="8.8" fill="#222" style="stroke-width:0.25px" text-anchor="middle" textLength="42" lengthAdjust="spacingAndGlyphs" transform="translate(433.10 474.00) rotate(-90)">PLT (×10<tspan font-size="5.5" dy="-2.5">9</tspan><tspan dy="2.5">/µL)</tspan></text>
<text x="0" y="0" font-size="7.5" fill="#222" text-anchor="end" transform="translate(470.00 511.70) rotate(-45)">Control</text>
<text x="0" y="0" font-size="7.5" fill="#222" text-anchor="end" transform="translate(482.40 511.70) rotate(-45)">OR-2100</text>
<text x="0" y="0" font-size="7.5" fill="#222" text-anchor="end" transform="translate(495.50 511.20) rotate(-45)">CHOP</text>
<text x="0" y="0" font-size="7.5" fill="#222" text-anchor="end" transform="translate(507.80 511.50) rotate(-45)">OR-2100+CHOP</text>
<rect x="0.5" y="0.5" width="519" height="560" fill="none" stroke="#6a6a6a" stroke-width="1"/>
</svg></body></html>
